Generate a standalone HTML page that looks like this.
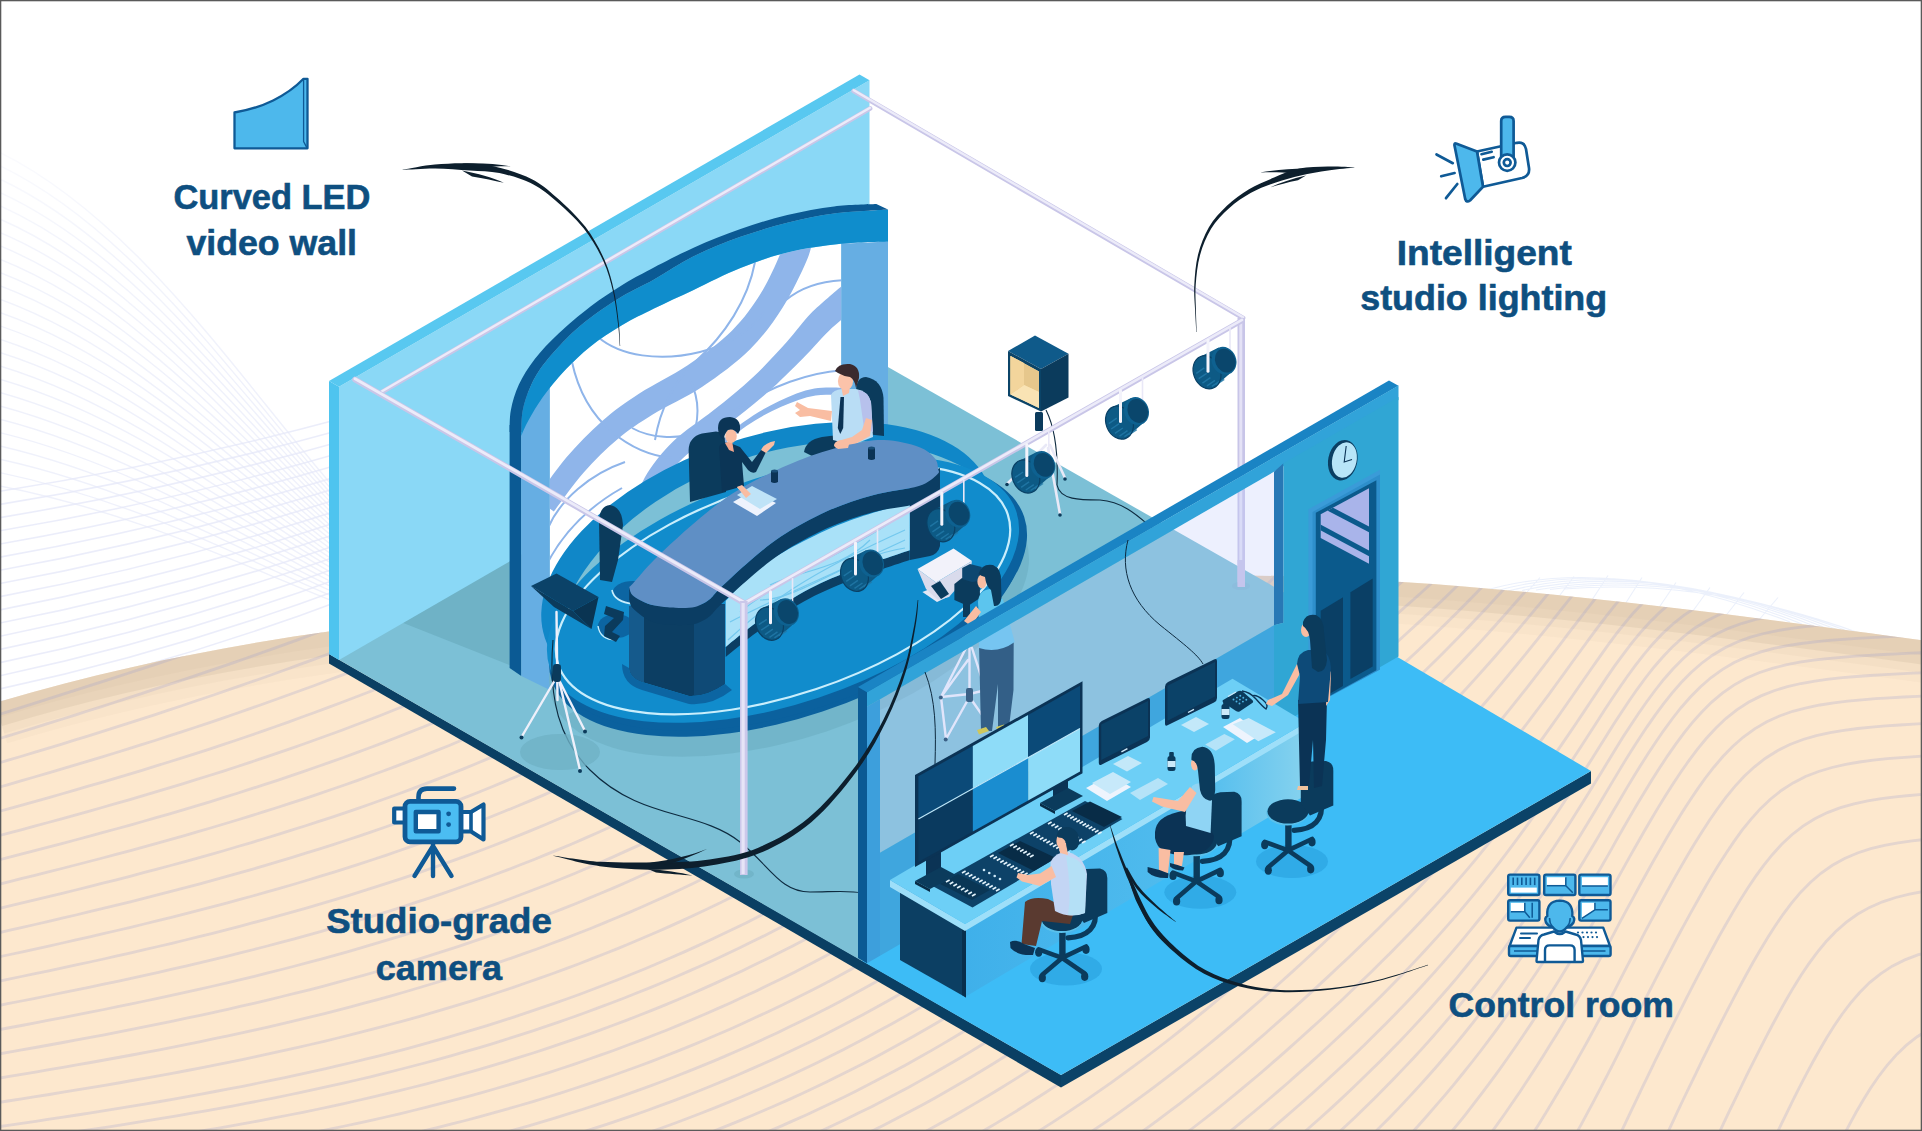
<!DOCTYPE html><html><head><meta charset="utf-8"><title>Studio</title>
<style>html,body{margin:0;padding:0;background:#fff;overflow:hidden}svg{display:block}text{font-family:"Liberation Sans",sans-serif;font-weight:bold;fill:#0e4f80;stroke:#0e4f80;stroke-width:0.6px}</style>
</head><body>
<svg width="1922" height="1131" viewBox="0 0 1922 1131">
<defs>
<clipPath id="sandclip"><path d="M-5,703 C 110,668 230,645 332,631 C 600,596 1000,572 1280,576 C 1500,582 1750,617 1927,641 L1927,1140 L-5,1140 Z"/></clipPath>
<linearGradient id="wfade" x1="0" y1="0" x2="1" y2="0"><stop offset="0" stop-color="#fff" stop-opacity="0"/><stop offset="0.55" stop-color="#fff" stop-opacity="0.35"/><stop offset="1" stop-color="#fff" stop-opacity="1"/></linearGradient>
<linearGradient id="wfade2" x1="0" y1="0" x2="0" y2="1"><stop offset="0" stop-color="#fff" stop-opacity="1"/><stop offset="0.5" stop-color="#fff" stop-opacity="0.2"/><stop offset="1" stop-color="#fff" stop-opacity="0"/></linearGradient>
</defs>
<rect width="1922" height="1131" fill="#ffffff"/>
<path d="M-5,150 C140,219 250,395 345,500 M-5,163.4 C140,230.7 250,402 345,504.2 M-5,176.8 C140,242.5 250,409 345,508.5 M-5,190.2 C140,254.2 250,415.9 345,512.7 M-5,203.6 C140,266 250,422.9 345,516.9 M-5,217 C140,277.7 250,429.9 345,521.2 M-5,230.4 C140,289.5 250,436.9 345,525.4 M-5,243.8 C140,301.2 250,443.9 345,529.6 M-5,257.2 C140,313 250,450.9 345,533.8 M-5,270.6 C140,324.7 250,457.8 345,538.1 M-5,284 C140,336.5 250,464.8 345,542.3 M-5,297.4 C140,348.2 250,471.8 345,546.5 M-5,310.8 C140,360 250,478.8 345,550.8 M-5,324.2 C140,371.7 250,485.8 345,555 M-5,337.6 C140,383.5 250,492.7 345,559.2 M-5,351 C140,395.2 250,499.7 345,563.5 M-5,364.4 C140,407 250,506.7 345,567.7 M-5,377.8 C140,418.7 250,513.7 345,571.9 M-5,391.2 C140,430.5 250,520.7 345,576.2 M-5,404.6 C140,442.2 250,527.6 345,580.4 M-5,418 C140,454 250,534.6 345,584.6 M-5,431.4 C140,465.7 250,541.6 345,588.8 M-5,444.8 C140,477.5 250,548.6 345,593.1 M-5,458.2 C140,489.2 250,555.6 345,597.3 M-5,471.6 C140,501 250,562.6 345,601.5 M-5,485 C140,512.7 250,569.5 345,605.8" fill="none" stroke="#e8ebfa" stroke-width="1.4" opacity="0.7"/>
<rect x="0" y="100" width="360" height="300" fill="url(#wfade2)"/>
<path d="M-5,492 Q170,464.8 345,417.5 M-5,505.2 Q170,477.3 345,428.8 M-5,518.4 Q170,489.8 345,440.2 M-5,531.6 Q170,502.4 345,451.5 M-5,544.8 Q170,514.9 345,462.8 M-5,558 Q170,527.4 345,474.2 M-5,571.2 Q170,539.9 345,485.5 M-5,584.4 Q170,552.4 345,496.8 M-5,597.6 Q170,565 345,508.2 M-5,610.8 Q170,577.5 345,519.5 M-5,624 Q170,590 345,530.9 M-5,637.2 Q170,602.5 345,542.2 M-5,650.4 Q170,615 345,553.5 M-5,663.6 Q170,627.6 345,564.9 M-5,676.8 Q170,640.1 345,576.2 M-5,690 Q170,652.6 345,587.5 M-5,703.2 Q170,665.1 345,598.9" fill="none" stroke="#e6e9f9" stroke-width="1.6" opacity="0.8"/>
<path d="M1480,592 Q1610,552 1790,622 M1494,591.5 Q1626,553.7 1802,624 M1508,591 Q1642,556.4 1814,626 M1522,590.5 Q1658,560.1 1826,628 M1536,590 Q1674,564.8 1838,630 M1550,589.5 Q1690,570.5 1850,632 M1564,589 Q1706,577.2 1862,634 M1520,600 L1540,577.5 M1554,603 L1574,576.5 M1588,606 L1608,575.5 M1622,609 L1642,577.5 M1656,612 L1676,582.5 M1690,615 L1710,587.5 M1724,618 L1744,592.5 M1758,621 L1778,597.5" fill="none" stroke="#e3e9f9" stroke-width="1.1" opacity="0.7"/>
<path d="M-5,703 C 110,668 230,645 332,631 C 600,596 1000,572 1280,576 C 1500,582 1750,617 1927,641 L1927,1140 L-5,1140 Z" fill="#fde8ce"/>
<g clip-path="url(#sandclip)">
<path d="M-5,703 C 110,668 230,645 332,631 C 600,596 1000,572 1280,576 C 1500,582 1750,617 1927,641" fill="none" stroke="#b9a58c" stroke-width="84" opacity="0.05"/>
<path d="M-5,703 C 110,668 230,645 332,631 C 600,596 1000,572 1280,576 C 1500,582 1750,617 1927,641" fill="none" stroke="#b9a58c" stroke-width="64" opacity="0.07"/>
<path d="M-5,703 C 110,668 230,645 332,631 C 600,596 1000,572 1280,576 C 1500,582 1750,617 1927,641" fill="none" stroke="#b9a58c" stroke-width="48" opacity="0.18"/>
<path d="M-5,703 C 110,668 230,645 332,631 C 600,596 1000,572 1280,576 C 1500,582 1750,617 1927,641" fill="none" stroke="#b9a58c" stroke-width="30" opacity="0.08"/>
<path d="M-6,716 L7.4,711.8 L20.7,707.6 L34.1,703.4 L47.4,699.2 L60.8,694.9 L74.1,690.7 L87.4,686.4 L100.8,682.2 L114.1,677.9 L127.4,673.5 L140.7,669.2 L154,664.8 L167.3,660.4 L180.6,656 L193.9,651.5 L207.1,647.1 L220.4,642.5 L233.6,638 L246.8,633.3 L260,628.7 L273.2,624 L286.4,619.3 L299.6,614.5 L312.7,609.7 L325.8,604.8 L338.9,599.9 L352,594.9 L365.1,589.9 L378.1,584.8 L391.1,579.6 L404.1,574.5 L417.1,569.2 L430.1,563.9 L443,558.5 L455.9,553.1 L468.8,547.6 L481.6,542 L494.5,536.4 M-6,740.2 L7.4,736.1 L20.8,732 L34.2,727.9 L47.5,723.7 L60.9,719.5 L74.2,715.3 L87.6,711 L100.9,706.8 L114.2,702.5 L127.5,698.2 L140.8,693.8 L154.1,689.4 L167.4,685 L180.7,680.6 L194,676.2 L207.2,671.7 L220.5,667.1 L233.7,662.6 L246.9,658 L260.2,653.3 L273.3,648.6 L286.5,643.9 L299.7,639.1 L312.8,634.3 L325.9,629.4 L339.1,624.5 L352.1,619.5 L365.2,614.5 L378.2,609.4 L391.3,604.3 L404.3,599.1 L417.2,593.8 L430.2,588.5 L443.1,583.1 L456,577.7 L468.9,572.2 L481.8,566.7 L494.6,561 L507.4,555.4 L520.1,549.6 L532.9,543.8 L545.6,537.9 M-6,764.4 L7.4,760.4 L20.8,756.5 L34.3,752.4 L47.7,748.4 L61.1,744.3 L74.4,740.2 L87.8,736.1 L101.2,731.9 L114.5,727.7 L127.9,723.4 L141.2,719.1 L154.5,714.8 L167.8,710.4 L181.1,706 L194.3,701.5 L207.6,697 L220.8,692.5 L234.1,687.9 L247.3,683.3 L260.5,678.7 L273.7,674 L286.9,669.2 L300,664.4 L313.2,659.6 L326.3,654.7 L339.4,649.8 L352.5,644.8 L365.5,639.8 L378.6,634.7 L391.6,629.6 L404.6,624.4 L417.6,619.1 L430.5,613.8 L443.5,608.4 L456.4,603 L469.3,597.5 L482.1,592 L494.9,586.3 L507.7,580.7 L520.5,574.9 L533.2,569.1 L545.9,563.2 L558.6,557.3 L571.3,551.3 L583.9,545.2 L596.4,539 M-6,788.6 L7.5,784.8 L20.9,780.9 L34.4,777 L47.8,773.1 L61.2,769.2 L74.7,765.2 L88.1,761.2 L101.5,757.1 L114.9,753 L128.2,748.9 L141.6,744.7 L155,740.5 L168.3,736.2 L181.6,731.9 L194.9,727.5 L208.2,723.1 L221.4,718.6 L234.7,714 L247.9,709.4 L261.1,704.7 L274.3,700 L287.5,695.3 L300.6,690.5 L313.8,685.7 L326.9,680.8 L340,675.9 L353.1,670.9 L366.1,665.9 L379.2,660.8 L392.2,655.6 L405.2,650.4 L418.2,645.2 L431.1,639.9 L444,634.5 L456.9,629.1 L469.8,623.6 L482.7,618 L495.5,612.4 L508.3,606.7 L521.1,600.9 L533.8,595.1 L546.5,589.3 L559.2,583.3 L571.8,577.3 L584.4,571.2 L597,565.1 L609.5,558.8 L622,552.5 L634.5,546.2 L647,539.8 M-6,812.8 L7.5,809.1 L21,805.3 L34.5,801.6 L48,797.8 L61.4,794 L74.9,790.1 L88.3,786.2 L101.8,782.3 L115.2,778.4 L128.6,774.3 L142,770.3 L155.4,766.2 L168.8,762 L182.1,757.8 L195.5,753.6 L208.8,749.3 L222.1,744.9 L235.4,740.5 L248.6,736 L261.9,731.4 L275.1,726.8 L288.3,722.1 L301.4,717.3 L314.6,712.5 L327.7,707.6 L340.8,702.7 L353.9,697.7 L366.9,692.7 L380,687.6 L393,682.4 L406,677.2 L419,672 L431.9,666.7 L444.8,661.3 L457.8,655.9 L470.6,650.4 L483.5,644.8 L496.3,639.2 L509.1,633.5 L521.8,627.7 L534.6,621.9 L547.3,616 L560,610.1 L572.6,604 L585.2,598 L597.8,591.8 L610.3,585.6 L622.8,579.3 L635.3,572.9 L647.7,566.5 L660.1,560 L672.5,553.4 L684.8,546.8 L697.1,540.1 L709.3,533.3 M-6,837 L7.5,833.4 L21.1,829.8 L34.6,826.2 L48.1,822.5 L61.6,818.8 L75.1,815.1 L88.6,811.3 L102.1,807.5 L115.5,803.7 L129,799.8 L142.4,795.9 L155.8,791.9 L169.2,787.9 L182.6,783.8 L196,779.7 L209.4,775.5 L222.7,771.3 L236,767 L249.3,762.6 L262.6,758.2 L275.9,753.7 L289.1,749.1 L302.3,744.5 L315.5,739.8 L328.7,735 L341.8,730.2 L354.9,725.2 L368,720.2 L381,715.2 L394.1,710 L407.1,704.8 L420,699.5 L433,694.2 L445.9,688.8 L458.8,683.4 L471.7,677.9 L484.5,672.3 L497.3,666.7 L510.1,661 L522.9,655.2 L535.6,649.4 L548.3,643.5 L561,637.6 L573.6,631.5 L586.2,625.4 L598.8,619.3 L611.3,613 L623.8,606.7 L636.3,600.4 L648.7,593.9 L661.1,587.4 L673.5,580.9 L685.8,574.2 L698.1,567.5 L710.3,560.7 L722.5,553.8 L734.7,546.9 L746.8,539.9 M-6,861.2 L7.6,857.7 L21.1,854.2 L34.7,850.7 L48.2,847.2 L61.8,843.6 L75.3,840 L88.8,836.4 L102.3,832.7 L115.8,829 L129.3,825.3 L142.8,821.5 L156.2,817.6 L169.7,813.8 L183.1,809.8 L196.5,805.8 L209.9,801.8 L223.3,797.6 L236.7,793.5 L250,789.2 L263.4,784.9 L276.7,780.6 L289.9,776.1 L303.2,771.6 L316.4,767 L329.6,762.4 L342.8,757.7 L356,752.9 L369.1,748 L382.2,743.1 L395.3,738 L408.3,732.9 L421.3,727.7 L434.3,722.5 L447.2,717.1 L460.1,711.7 L473,706.1 L485.8,700.6 L498.6,694.9 L511.4,689.2 L524.2,683.5 L536.9,677.6 L549.6,671.7 L562.3,665.8 L574.9,659.7 L587.5,653.6 L600.1,647.5 L612.6,641.2 L625.1,634.9 L637.6,628.6 L650,622.1 L662.4,615.6 L674.7,609 L687,602.3 L699.3,595.6 L711.6,588.8 L723.8,582 L735.9,575 L748,568 L760.1,560.9 L772.1,553.8 L784.1,546.5 L796.1,539.2 M-6,885.4 L7.6,882.1 L21.2,878.7 L34.8,875.3 L48.4,871.9 L61.9,868.5 L75.5,865 L89,861.5 L102.6,858 L116.1,854.4 L129.6,850.8 L143.2,847.1 L156.7,843.4 L170.1,839.6 L183.6,835.8 L197.1,831.9 L210.5,828 L223.9,824 L237.3,820 L250.7,815.9 L264.1,811.7 L277.4,807.5 L290.7,803.2 L304,798.8 L317.3,794.4 L330.6,789.8 L343.8,785.2 L357,780.6 L370.2,775.8 L383.3,771 L396.4,766.1 L409.5,761.1 L422.6,756.1 L435.6,750.9 L448.6,745.7 L461.5,740.3 L474.4,734.9 L487.3,729.4 L500.1,723.9 L512.9,718.2 L525.7,712.4 L538.4,706.6 L551.1,700.7 L563.8,694.7 L576.4,688.7 L589,682.6 L601.6,676.4 L614.1,670.1 L626.6,663.8 L639,657.4 L651.5,651 L663.9,644.5 L676.2,637.9 L688.5,631.2 L700.8,624.5 L713,617.6 L725.2,610.8 L737.4,603.8 L749.5,596.8 L761.6,589.7 L773.6,582.5 L785.6,575.3 L797.5,568 L809.4,560.6 L821.3,553.2 L833.1,545.7 L844.8,538.1 M-6,909.6 L7.6,906.4 L21.2,903.2 L34.9,899.9 L48.5,896.6 L62.1,893.3 L75.7,890 L89.3,886.6 L102.8,883.2 L116.4,879.8 L130,876.3 L143.5,872.7 L157.1,869.2 L170.6,865.5 L184.1,861.8 L197.6,858.1 L211,854.3 L224.5,850.5 L237.9,846.5 L251.4,842.6 L264.8,838.5 L278.2,834.4 L291.5,830.2 L304.9,826 L318.2,821.7 L331.5,817.3 L344.8,812.8 L358,808.3 L371.2,803.7 L384.4,799 L397.6,794.2 L410.7,789.4 L423.8,784.4 L436.9,779.4 L449.9,774.3 L462.9,769.1 L475.9,763.8 L488.8,758.4 L501.7,753 L514.5,747.4 L527.3,741.8 L540.1,736 L552.8,730.2 L565.5,724.3 L578.2,718.3 L590.8,712.2 L603.3,706 L615.8,699.7 L628.3,693.4 L640.8,687 L653.2,680.5 L665.6,674 L677.9,667.4 L690.2,660.7 L702.5,654 L714.7,647.2 L726.9,640.3 L739.1,633.3 L751.2,626.3 L763.2,619.2 L775.3,612 L787.2,604.8 L799.2,597.4 L811.1,590.1 L822.9,582.6 L834.7,575.1 L846.5,567.5 L858.2,559.8 L869.9,552.1 L881.5,544.3 L893.1,536.4 M-6,933.8 L7.7,930.7 L21.3,927.6 L35,924.5 L48.6,921.3 L62.2,918.2 L75.9,915 L89.5,911.7 L103.1,908.4 L116.7,905.1 L130.3,901.8 L143.9,898.4 L157.4,894.9 L171,891.4 L184.5,887.9 L198.1,884.3 L211.6,880.6 L225.1,876.9 L238.5,873.1 L252,869.3 L265.5,865.4 L278.9,861.4 L292.3,857.3 L305.7,853.2 L319,849.1 L332.4,844.8 L345.7,840.5 L359,836.1 L372.2,831.6 L385.5,827 L398.7,822.4 L411.8,817.6 L425,812.8 L438.1,807.9 L451.2,802.9 L464.2,797.9 L477.3,792.7 L490.2,787.5 L503.2,782.1 L516.1,776.7 L528.9,771.2 L541.8,765.5 L554.6,759.8 L567.3,754 L580,748.1 L592.6,742.1 L605.2,736.1 L617.8,729.9 L630.3,723.6 L642.8,717.2 L655.2,710.7 L667.6,704.2 L679.9,697.6 L692.2,690.9 L704.5,684.1 L716.7,677.3 L728.9,670.4 L741,663.4 L753.1,656.4 L765.2,649.3 L777.2,642.1 L789.2,634.9 L801.1,627.5 L813,620.1 L824.8,612.7 L836.6,605.1 L848.4,597.5 L860.1,589.8 L871.8,582.1 L883.4,574.3 L894.9,566.4 L906.5,558.5 L917.9,550.4 L929.4,542.3 L940.7,534.2 M-6,958 L7.7,955 L21.4,952.1 L35,949.1 L48.7,946.1 L62.4,943 L76,939.9 L89.7,936.8 L103.3,933.7 L117,930.5 L130.6,927.3 L144.2,924 L157.8,920.7 L171.4,917.3 L185,913.9 L198.5,910.4 L212.1,906.9 L225.6,903.3 L239.1,899.7 L252.6,896 L266.1,892.2 L279.6,888.4 L293,884.5 L306.4,880.5 L319.8,876.4 L333.2,872.3 L346.6,868.1 L359.9,863.8 L373.2,859.5 L386.5,855.1 L399.7,850.5 L413,845.9 L426.2,841.3 L439.3,836.5 L452.5,831.6 L465.6,826.7 L478.6,821.7 L491.6,816.5 L504.6,811.3 L517.6,806 L530.5,800.6 L543.4,795.1 L556.2,789.5 L569,783.9 L581.8,778.1 L594.5,772.2 L607.1,766.2 L619.8,760.2 L632.3,754 L644.9,747.7 L657.3,741.4 L669.7,734.9 L682.1,728.4 L694.4,721.7 L706.7,715 L718.9,708.1 L731.1,701.2 L743.2,694.2 L755.3,687.2 L767.4,680 L779.4,672.8 L791.3,665.6 L803.3,658.2 L815.1,650.8 L827,643.4 L838.8,635.8 L850.5,628.2 L862.2,620.5 L873.9,612.7 L885.5,604.9 L897,597 L908.6,589.1 L920,581 L931.4,572.9 L942.8,564.8 L954.1,556.5 L965.4,548.2 L976.6,539.9 M-6,982.2 L7.7,979.4 L21.4,976.5 L35.1,973.7 L48.8,970.8 L62.5,967.9 L76.2,964.9 L89.9,962 L103.6,959 L117.2,955.9 L130.9,952.8 L144.5,949.7 L158.2,946.5 L171.8,943.3 L185.4,940 L199,936.6 L212.6,933.3 L226.1,929.8 L239.7,926.3 L253.2,922.7 L266.7,919.1 L280.2,915.4 L293.7,911.6 L307.2,907.8 L320.6,903.9 L334.1,899.9 L347.5,895.8 L360.8,891.7 L374.2,887.4 L387.5,883.1 L400.8,878.8 L414.1,874.3 L427.3,869.7 L440.5,865.1 L453.7,860.4 L466.8,855.6 L479.9,850.7 L493,845.7 L506.1,840.6 L519.1,835.4 L532,830.1 L545,824.8 L557.9,819.3 L570.7,813.7 L583.5,808.1 L596.3,802.3 L609,796.5 L621.7,790.5 L634.3,784.5 L646.9,778.3 L659.4,772.1 L671.9,765.7 L684.3,759.3 L696.7,752.7 L709,746.1 L721.3,739.4 L733.5,732.5 L745.7,725.6 L757.8,718.5 L769.8,711.4 L781.8,704.2 L793.8,696.9 L805.7,689.6 L817.6,682.1 L829.4,674.7 L841.2,667.1 L852.9,659.5 L864.6,651.8 L876.2,644 L887.8,636.1 L899.4,628.2 L910.9,620.3 L922.3,612.2 L933.8,604.1 L945.1,595.9 L956.4,587.7 L967.7,579.4 L978.9,571 L990.1,562.6 L1001.2,554 L1012.3,545.5 L1023.3,536.9 M-6,1006.4 L7.7,1003.7 L21.5,1001 L35.2,998.3 L48.9,995.5 L62.7,992.7 L76.4,989.9 L90.1,987.1 L103.8,984.2 L117.5,981.3 L131.2,978.3 L144.8,975.3 L158.5,972.3 L172.1,969.2 L185.8,966.1 L199.4,962.9 L213,959.6 L226.6,956.3 L240.2,952.9 L253.8,949.5 L267.4,946 L280.9,942.4 L294.4,938.8 L307.9,935.1 L321.4,931.3 L334.9,927.4 L348.3,923.5 L361.7,919.5 L375.1,915.4 L388.5,911.3 L401.8,907 L415.1,902.7 L428.4,898.3 L441.7,893.8 L454.9,889.2 L468.1,884.5 L481.2,879.7 L494.4,874.8 L507.5,869.9 L520.5,864.8 L533.5,859.7 L546.5,854.4 L559.5,849.1 L572.4,843.7 L585.2,838.1 L598,832.5 L610.8,826.8 L623.5,820.9 L636.2,815 L648.8,809 L661.4,802.8 L674,796.6 L686.5,790.3 L698.9,783.8 L711.3,777.3 L723.6,770.7 L735.9,763.9 L748.1,757.1 L760.3,750.2 L772.4,743.2 L784.4,736 L796.4,728.8 L808.3,721.5 L820.2,714.1 L832,706.6 L843.8,699 L855.5,691.3 L867.2,683.6 L878.8,675.8 L890.4,668 L902,660 L913.5,652 L924.9,644 L936.3,635.9 L947.7,627.7 L959,619.4 L970.2,611.1 L981.4,602.7 L992.6,594.2 L1003.7,585.7 L1014.8,577.1 L1025.8,568.5 L1036.7,559.8 L1047.7,551 L1058.5,542.2 L1069.3,533.3 M-6,1030.6 L7.8,1028 L21.5,1025.5 L35.3,1022.9 L49,1020.2 L62.8,1017.6 L76.5,1014.9 L90.3,1012.2 L104,1009.5 L117.7,1006.7 L131.4,1003.9 L145.1,1001 L158.8,998.1 L172.5,995.2 L186.2,992.1 L199.8,989.1 L213.5,986 L227.1,982.8 L240.7,979.6 L254.4,976.3 L267.9,972.9 L281.5,969.5 L295.1,966 L308.6,962.4 L322.1,958.8 L335.6,955.1 L349.1,951.3 L362.6,947.4 L376,943.4 L389.4,939.4 L402.8,935.3 L416.1,931.1 L429.5,926.8 L442.8,922.4 L456,918 L469.3,913.4 L482.5,908.8 L495.7,904.1 L508.8,899.2 L521.9,894.3 L535,889.3 L548,884.2 L561,879 L574,873.7 L586.9,868.2 L599.7,862.7 L612.6,857.1 L625.3,851.4 L638.1,845.6 L650.8,839.7 L663.4,833.7 L676,827.6 L688.6,821.3 L701,815 L713.5,808.6 L725.9,802.1 L738.2,795.5 L750.5,788.7 L762.7,781.9 L774.9,775 L787,768 L799,760.8 L811,753.6 L823,746.3 L834.8,738.9 L846.7,731.4 L858.4,723.7 L870.1,716 L881.7,708.2 L893.3,700.4 L904.8,692.4 L916.3,684.4 L927.7,676.3 L939.1,668.2 L950.5,660 L961.8,651.7 L973,643.4 L984.2,635 L995.3,626.5 L1006.4,617.9 L1017.5,609.3 L1028.5,600.7 L1039.4,592 L1050.3,583.2 L1061.2,574.3 L1072,565.4 L1082.7,556.5 L1093.4,547.4 L1104.1,538.4 M-6,1054.8 L7.8,1052.4 L21.6,1049.9 L35.4,1047.5 L49.1,1045 L62.9,1042.5 L76.7,1039.9 L90.4,1037.4 L104.2,1034.8 L117.9,1032.1 L131.7,1029.4 L145.4,1026.7 L159.1,1023.9 L172.8,1021.1 L186.5,1018.2 L200.2,1015.3 L213.9,1012.3 L227.6,1009.3 L241.2,1006.2 L254.9,1003.1 L268.5,999.8 L282.1,996.5 L295.7,993.2 L309.3,989.8 L322.8,986.3 L336.4,982.7 L349.9,979 L363.4,975.3 L376.9,971.5 L390.3,967.6 L403.7,963.6 L417.1,959.6 L430.5,955.4 L443.8,951.2 L457.2,946.9 L470.4,942.4 L483.7,937.9 L496.9,933.3 L510.1,928.6 L523.3,923.8 L536.4,919 L549.5,914 L562.5,908.9 L575.5,903.7 L588.5,898.4 L601.4,893 L614.3,887.6 L627.1,882 L639.9,876.3 L652.7,870.5 L665.4,864.6 L678,858.6 L690.6,852.5 L703.2,846.3 L715.7,840 L728.1,833.6 L740.5,827.1 L752.8,820.4 L765.1,813.7 L777.3,806.9 L789.5,800 L801.6,793 L813.7,785.8 L825.7,778.6 L837.6,771.3 L849.5,763.9 L861.3,756.4 L873,748.7 L884.7,741 L896.3,733.2 L907.9,725.3 L919.4,717.3 L930.8,709.2 L942.2,701.1 L953.5,692.8 L964.8,684.5 L976,676.2 L987.2,667.8 L998.3,659.3 L1009.4,650.7 L1020.5,642.1 L1031.4,633.4 L1042.4,624.7 L1053.3,615.9 L1064.1,607 L1074.9,598.1 L1085.6,589.1 L1096.3,580.1 L1107,571 L1117.5,561.8 L1128.1,552.6 L1138.6,543.3 L1149,534 M-6,1079 L7.8,1076.7 L21.6,1074.4 L35.4,1072.1 L49.2,1069.7 L63,1067.3 L76.8,1064.9 L90.6,1062.5 L104.4,1060 L118.2,1057.5 L131.9,1055 L145.7,1052.4 L159.4,1049.8 L173.2,1047.1 L186.9,1044.4 L200.6,1041.6 L214.3,1038.7 L228,1035.8 L241.7,1032.9 L255.4,1029.9 L269,1026.8 L282.7,1023.6 L296.3,1020.4 L309.9,1017.1 L323.5,1013.8 L337.1,1010.3 L350.6,1006.8 L364.2,1003.2 L377.7,999.6 L391.2,995.8 L404.6,992 L418.1,988 L431.5,984 L444.9,979.9 L458.2,975.8 L471.6,971.5 L484.9,967.1 L498.1,962.6 L511.4,958.1 L524.6,953.4 L537.7,948.7 L550.9,943.8 L564,938.9 L577,933.8 L590,928.7 L603,923.4 L615.9,918 L628.8,912.6 L641.7,907 L654.5,901.3 L667.2,895.6 L679.9,889.7 L692.6,883.7 L705.2,877.6 L717.8,871.4 L730.3,865.1 L742.7,858.7 L755.1,852.2 L767.5,845.6 L779.7,838.9 L792,832.1 L804.1,825.2 L816.3,818.2 L828.3,811 L840.3,803.8 L852.2,796.5 L864.1,789.1 L875.9,781.6 L887.7,773.9 L899.3,766.2 L911,758.4 L922.5,750.5 L934,742.5 L945.4,734.4 L956.8,726.2 L968.1,717.9 L979.3,709.5 L990.4,701.1 L1001.6,692.6 L1012.6,684 L1023.7,675.4 L1034.6,666.7 L1045.6,657.9 L1056.4,649.1 L1067.2,640.2 L1078,631.3 L1088.7,622.3 L1099.4,613.2 L1110,604.1 L1120.6,595 L1131.1,585.7 L1141.6,576.4 L1152,567.1 L1162.4,557.7 L1172.8,548.2 L1183,538.7 M-6,1103.2 L7.8,1101 L21.7,1098.9 L35.5,1096.7 L49.3,1094.5 L63.1,1092.2 L76.9,1089.9 L90.8,1087.7 L104.6,1085.3 L118.4,1083 L132.2,1080.5 L145.9,1078.1 L159.7,1075.6 L173.5,1073.1 L187.2,1070.5 L201,1067.8 L214.7,1065.1 L228.5,1062.4 L242.2,1059.6 L255.9,1056.7 L269.6,1053.7 L283.2,1050.7 L296.9,1047.7 L310.5,1044.5 L324.2,1041.3 L337.8,1038 L351.3,1034.6 L364.9,1031.2 L378.5,1027.7 L392,1024 L405.5,1020.4 L419,1016.6 L432.4,1012.7 L445.9,1008.7 L459.3,1004.7 L472.6,1000.6 L486,996.3 L499.3,992 L512.6,987.6 L525.8,983 L539,978.4 L552.2,973.7 L565.4,968.9 L578.5,964 L591.5,958.9 L604.6,953.8 L617.6,948.6 L630.5,943.3 L643.4,937.8 L656.3,932.3 L669.1,926.6 L681.8,920.9 L694.5,915 L707.2,909 L719.8,903 L732.4,896.8 L744.9,890.5 L757.4,884.1 L769.8,877.6 L782.1,871 L794.4,864.3 L806.6,857.5 L818.8,850.6 L830.9,843.6 L843,836.5 L855,829.2 L866.9,821.9 L878.8,814.5 L890.6,807 L902.3,799.3 L914,791.6 L925.6,783.8 L937.1,775.9 L948.6,767.9 L960,759.8 L971.4,751.6 L982.7,743.3 L993.9,734.9 L1005,726.4 L1016.1,717.8 L1027.1,709.2 L1038.1,700.5 L1049,691.7 L1059.8,682.9 L1070.6,674 L1081.4,665 L1092.1,656 L1102.8,646.9 L1113.4,637.8 L1123.9,628.6 L1134.4,619.3 L1144.9,610 L1155.3,600.7 L1165.7,591.3 L1176,581.8 L1186.2,572.3 L1196.5,562.7 L1206.6,553.1 L1216.7,543.4 L1226.8,533.6 M-6,1127.4 L7.9,1125.4 L21.7,1123.3 L35.6,1121.3 L49.4,1119.2 L63.2,1117.1 L77.1,1115 L90.9,1112.8 L104.7,1110.6 L118.6,1108.4 L132.4,1106.1 L146.2,1103.8 L160,1101.5 L173.8,1099.1 L187.6,1096.6 L201.3,1094.1 L215.1,1091.5 L228.8,1088.9 L242.6,1086.3 L256.3,1083.5 L270,1080.7 L283.7,1077.9 L297.4,1074.9 L311.1,1071.9 L324.8,1068.9 L338.4,1065.7 L352,1062.5 L365.6,1059.2 L379.2,1055.8 L392.8,1052.3 L406.3,1048.8 L419.8,1045.1 L433.3,1041.4 L446.8,1037.6 L460.3,1033.7 L473.7,1029.7 L487.1,1025.6 L500.4,1021.4 L513.7,1017.1 L527,1012.7 L540.3,1008.2 L553.5,1003.7 L566.7,999 L579.9,994.2 L593,989.3 L606.1,984.3 L619.1,979.2 L632.1,974 L645.1,968.7 L658,963.3 L670.8,957.7 L683.7,952.1 L696.4,946.4 L709.2,940.5 L721.8,934.6 L734.4,928.5 L747,922.4 L759.5,916.1 L772,909.7 L784.4,903.2 L796.7,896.6 L809,889.9 L821.3,883.1 L833.4,876.2 L845.6,869.2 L857.6,862.1 L869.6,854.8 L881.5,847.5 L893.4,840.1 L905.2,832.6 L916.9,824.9 L928.6,817.2 L940.2,809.4 L951.8,801.4 L963.2,793.4 L974.6,785.3 L986,777.1 L997.3,768.8 L1008.5,760.4 L1019.6,751.9 L1030.7,743.3 L1041.7,734.7 L1052.6,725.9 L1063.5,717.1 L1074.3,708.2 L1085,699.2 L1095.7,690.2 L1106.3,681.1 L1116.9,671.9 L1127.5,662.7 L1138,653.4 L1148.4,644.1 L1158.8,634.7 L1169.1,625.3 L1179.4,615.8 L1189.7,606.3 L1199.9,596.7 L1210,587 L1220.1,577.3 L1230.2,567.6 L1240.2,557.8 L1250.1,548 L1260,538.1 M40,1137 L53.9,1135 L67.7,1133 L81.6,1130.9 L95.4,1128.9 L109.2,1126.8 L123.1,1124.6 L136.9,1122.4 L150.7,1120.2 L164.5,1117.9 L178.3,1115.6 L192.1,1113.2 L205.9,1110.8 L219.7,1108.3 L233.5,1105.8 L247.2,1103.2 L261,1100.5 L274.7,1097.8 L288.4,1095 L302.1,1092.2 L315.8,1089.2 L329.5,1086.2 L343.2,1083.1 L356.8,1080 L370.4,1076.8 L384,1073.4 L397.6,1070 L411.2,1066.5 L424.7,1063 L438.2,1059.3 L451.7,1055.6 L465.2,1051.7 L478.6,1047.8 L492,1043.8 L505.4,1039.6 L518.7,1035.4 L532,1031.1 L545.3,1026.7 L558.6,1022.1 L571.8,1017.5 L585,1012.8 L598.1,1007.9 L611.2,1003 L624.3,998 L637.3,992.8 L650.3,987.6 L663.2,982.2 L676.1,976.7 L688.9,971.1 L701.7,965.5 L714.5,959.7 L727.2,953.8 L739.8,947.7 L752.4,941.6 L764.9,935.4 L777.4,929.1 L789.8,922.6 L802.2,916.1 L814.5,909.4 L826.8,902.6 L839,895.7 L851.1,888.8 L863.2,881.7 L875.2,874.5 L887.1,867.2 L899,859.8 L910.9,852.3 L922.6,844.7 L934.3,837 L945.9,829.2 L957.5,821.3 L969,813.3 L980.4,805.2 L991.8,797.1 L1003.1,788.8 L1014.3,780.4 L1025.4,771.9 L1036.5,763.4 L1047.6,754.8 L1058.5,746 L1069.4,737.2 L1080.2,728.3 L1090.9,719.3 L1101.6,710.3 L1112.2,701.2 L1122.8,692 L1133.3,682.7 L1143.8,673.4 L1154.2,664.1 L1164.5,654.7 L1174.9,645.2 L1185.1,635.7 L1195.3,626.1 L1205.5,616.5 L1215.6,606.8 L1225.7,597.1 L1235.7,587.3 L1245.7,577.5 L1255.6,567.6 L1265.6,557.7 L1275.5,547.9 L1285.6,538.2 M165,1137 L178.8,1134.8 L192.6,1132.5 L206.4,1130.2 L220.2,1127.8 L234,1125.4 L247.8,1122.9 L261.6,1120.3 L275.3,1117.7 L289.1,1115 L302.8,1112.3 L316.5,1109.5 L330.2,1106.6 L343.9,1103.6 L357.5,1100.5 L371.2,1097.4 L384.8,1094.2 L398.4,1090.9 L412,1087.5 L425.6,1084.1 L439.1,1080.5 L452.6,1076.9 L466.1,1073.1 L479.6,1069.3 L493,1065.4 L506.4,1061.3 L519.8,1057.2 L533.2,1053 L546.5,1048.7 L559.8,1044.2 L573,1039.7 L586.2,1035.1 L599.4,1030.4 L612.5,1025.5 L625.6,1020.6 L638.7,1015.5 L651.7,1010.4 L664.7,1005.1 L677.6,999.7 L690.5,994.2 L703.3,988.6 L716.1,982.9 L728.8,977.1 L741.5,971.2 L754.1,965.1 L766.7,959 L779.2,952.7 L791.7,946.4 L804.1,939.9 L816.5,933.3 L828.8,926.6 L841,919.8 L853.2,912.9 L865.3,905.9 L877.4,898.8 L889.4,891.6 L901.3,884.3 L913.2,876.8 L925,869.3 L936.7,861.7 L948.4,853.9 L960,846.1 L971.5,838.2 L983,830.2 L994.4,822 L1005.7,813.8 L1017,805.5 L1028.2,797.1 L1039.3,788.6 L1050.4,780 L1061.4,771.4 L1072.3,762.6 L1083.2,753.8 L1093.9,744.8 L1104.7,735.8 L1115.3,726.7 L1125.9,717.5 L1136.4,708.3 L1146.8,699 L1157.2,689.6 L1167.6,680.2 L1177.9,670.7 L1188.1,661.2 L1198.3,651.6 L1208.5,641.9 L1218.6,632.2 L1228.7,622.5 L1238.7,612.7 L1248.6,602.9 L1258.5,593 L1268.5,583.1 L1278.5,573.3 L1288.5,563.6 L1298.6,553.9 L1308.8,544.2 L1319,534.7 M290,1137 L303.7,1134.4 L317.5,1131.7 L331.2,1128.9 L344.9,1126 L358.6,1123.1 L372.3,1120.1 L385.9,1117 L399.6,1113.8 L413.2,1110.5 L426.8,1107.2 L440.3,1103.7 L453.9,1100.2 L467.4,1096.6 L480.9,1092.8 L494.4,1089 L507.8,1085.1 L521.2,1081.1 L534.6,1077 L548,1072.8 L561.3,1068.5 L574.6,1064.1 L587.8,1059.5 L601,1054.9 L614.2,1050.2 L627.3,1045.3 L640.4,1040.4 L653.5,1035.3 L666.5,1030.2 L679.5,1024.9 L692.4,1019.5 L705.3,1014 L718.1,1008.4 L730.9,1002.7 L743.6,996.8 L756.3,990.9 L768.9,984.8 L781.5,978.7 L794,972.4 L806.5,966 L818.9,959.5 L831.2,952.9 L843.5,946.2 L855.7,939.4 L867.9,932.5 L880,925.4 L892,918.3 L904,911.1 L915.9,903.7 L927.8,896.3 L939.6,888.7 L951.3,881 L962.9,873.3 L974.5,865.4 L986,857.5 L997.5,849.4 L1008.9,841.3 L1020.2,833 L1031.4,824.7 L1042.6,816.2 L1053.7,807.7 L1064.7,799.1 L1075.7,790.4 L1086.6,781.6 L1097.4,772.7 L1108.2,763.8 L1118.9,754.7 L1129.5,745.6 L1140,736.4 L1150.5,727.1 L1160.9,717.7 L1171.3,708.3 L1181.5,698.8 L1191.8,689.2 L1202,679.6 L1212.1,670 L1222.2,660.3 L1232.2,650.5 L1242.2,640.7 L1252.2,630.9 L1262.1,621 L1272,611.1 L1282,601.3 L1292.1,591.6 L1302.2,581.9 L1312.4,572.3 L1322.6,562.7 L1332.9,553.2 L1343.2,543.8 L1353.6,534.4 M397.5,1137 L411.1,1133.9 L424.7,1130.6 L438.3,1127.3 L451.9,1123.9 L465.5,1120.5 L479,1116.9 L492.5,1113.2 L506,1109.4 L519.5,1105.5 L532.9,1101.6 L546.3,1097.5 L559.6,1093.3 L573,1089 L586.3,1084.6 L599.5,1080.1 L612.7,1075.5 L625.9,1070.8 L639.1,1066 L652.2,1061.1 L665.2,1056 L678.2,1050.9 L691.2,1045.6 L704.1,1040.2 L717,1034.8 L729.9,1029.2 L742.6,1023.5 L755.4,1017.6 L768.1,1011.7 L780.7,1005.7 L793.3,999.5 L805.8,993.2 L818.2,986.9 L830.6,980.4 L843,973.8 L855.3,967.1 L867.5,960.2 L879.7,953.3 L891.8,946.3 L903.8,939.1 L915.8,931.9 L927.7,924.5 L939.6,917.1 L951.3,909.5 L963,901.8 L974.7,894.1 L986.3,886.2 L997.8,878.2 L1009.2,870.2 L1020.6,862 L1031.9,853.8 L1043.2,845.4 L1054.3,837 L1065.4,828.4 L1076.4,819.8 L1087.4,811.1 L1098.3,802.3 L1109.1,793.4 L1119.9,784.4 L1130.5,775.4 L1141.1,766.2 L1151.7,757 L1162.1,747.7 L1172.5,738.3 L1182.9,728.9 L1193.1,719.3 L1203.3,709.7 L1213.4,700.1 L1223.5,690.4 L1233.5,680.6 L1243.5,670.8 L1253.5,660.9 L1263.4,651 L1273.3,641.2 L1283.3,631.4 L1293.4,621.7 L1303.5,612 L1313.7,602.3 L1323.9,592.8 L1334.2,583.3 L1344.5,573.8 L1354.9,564.4 L1365.3,555.1 L1375.7,545.7 L1386.2,536.4 M488.2,1137 L501.7,1133.4 L515.2,1129.6 L528.7,1125.8 L542.1,1121.9 L555.5,1117.8 L568.9,1113.7 L582.2,1109.5 L595.5,1105.1 L608.8,1100.7 L622,1096.1 L635.2,1091.4 L648.4,1086.6 L661.5,1081.8 L674.6,1076.7 L687.6,1071.6 L700.6,1066.4 L713.5,1061.1 L726.4,1055.6 L739.3,1050 L752.1,1044.4 L764.8,1038.6 L777.5,1032.7 L790.1,1026.6 L802.7,1020.5 L815.3,1014.3 L827.7,1007.9 L840.1,1001.4 L852.5,994.8 L864.8,988.1 L877,981.3 L889.2,974.4 L901.3,967.4 L913.4,960.3 L925.4,953 L937.3,945.7 L949.1,938.2 L960.9,930.7 L972.6,923 L984.3,915.3 L995.9,907.4 L1007.4,899.5 L1018.8,891.4 L1030.2,883.2 L1041.5,875 L1052.8,866.6 L1063.9,858.2 L1075,849.7 L1086.1,841.1 L1097,832.3 L1107.9,823.5 L1118.7,814.7 L1129.5,805.7 L1140.2,796.6 L1150.8,787.5 L1161.3,778.3 L1171.8,769 L1182.2,759.6 L1192.5,750.1 L1202.7,740.6 L1212.9,731 L1223,721.3 L1233.1,711.6 L1243.1,701.7 L1253,691.9 L1262.9,682 L1272.9,672.1 L1282.8,662.3 L1292.9,652.6 L1302.9,642.8 L1313.1,633.2 L1323.3,623.6 L1333.5,614 L1343.8,604.6 L1354.2,595.1 L1364.6,585.8 L1375,576.4 L1385.5,567.1 L1396,557.9 L1406.5,548.6 L1417,539.4 M566.6,1137 L579.9,1132.9 L593.3,1128.7 L606.6,1124.3 L619.9,1119.9 L633.1,1115.4 L646.3,1110.7 L659.5,1105.9 L672.6,1101.1 L685.7,1096.1 L698.7,1091 L711.7,1085.8 L724.7,1080.4 L737.6,1075 L750.4,1069.4 L763.2,1063.7 L776,1058 L788.7,1052.1 L801.3,1046 L813.9,1039.9 L826.4,1033.7 L838.9,1027.3 L851.3,1020.8 L863.7,1014.3 L876,1007.6 L888.2,1000.8 L900.4,993.8 L912.5,986.8 L924.5,979.7 L936.5,972.4 L948.4,965.1 L960.3,957.6 L972,950.1 L983.8,942.4 L995.4,934.6 L1007,926.8 L1018.5,918.8 L1029.9,910.7 L1041.3,902.6 L1052.6,894.3 L1063.8,885.9 L1075,877.5 L1086.1,868.9 L1097.1,860.3 L1108.1,851.6 L1118.9,842.8 L1129.8,833.9 L1140.5,824.9 L1151.2,815.8 L1161.7,806.7 L1172.3,797.4 L1182.7,788.1 L1193.1,778.7 L1203.4,769.2 L1213.7,759.7 L1223.8,750.1 L1233.9,740.4 L1244,730.6 L1253.9,720.8 L1263.8,710.9 L1273.8,701.1 L1283.8,691.2 L1293.8,681.4 L1303.8,671.7 L1313.9,662 L1324.1,652.4 L1334.3,642.8 L1344.6,633.3 L1354.9,623.8 L1365.2,614.4 L1375.6,605 L1386.1,595.7 L1396.6,586.4 L1407.1,577.2 L1417.5,567.9 L1427.9,558.5 L1438.2,548.9 L1448.3,539.3 M635.9,1137 L649.1,1132.4 L662.3,1127.8 L675.4,1123 L688.6,1118 L701.6,1113 L714.7,1107.9 L727.6,1102.6 L740.6,1097.3 L753.4,1091.8 L766.3,1086.2 L779.1,1080.5 L791.8,1074.7 L804.5,1068.7 L817.1,1062.7 L829.6,1056.5 L842.2,1050.2 L854.6,1043.8 L867,1037.3 L879.3,1030.6 L891.6,1023.9 L903.8,1017.1 L916,1010.1 L928,1003 L940.1,995.8 L952,988.5 L963.9,981.1 L975.7,973.6 L987.5,966 L999.1,958.3 L1010.8,950.5 L1022.3,942.6 L1033.8,934.6 L1045.2,926.5 L1056.5,918.2 L1067.8,909.9 L1079,901.5 L1090.1,893 L1101.2,884.4 L1112.1,875.7 L1123.1,867 L1133.9,858.1 L1144.7,849.2 L1155.4,840.1 L1166,831 L1176.5,821.8 L1187,812.5 L1197.4,803.2 L1207.8,793.7 L1218,784.2 L1228.2,774.6 L1238.4,765 L1248.4,755.2 L1258.4,745.4 L1268.4,735.6 L1278.4,725.8 L1288.4,716 L1298.4,706.2 L1308.5,696.5 L1318.6,686.8 L1328.7,677.1 L1338.9,667.5 L1349.1,657.9 L1359.4,648.4 L1369.7,638.9 L1380,629.5 L1390.4,620.1 L1400.8,610.8 L1411.3,601.5 L1421.7,592.2 L1432.1,582.7 L1442.3,573.1 L1452.3,563.4 L1462.3,553.6 L1472.2,543.7 L1482,533.6 M698.3,1137 L711.4,1132 L724.4,1126.9 L737.4,1121.6 L750.3,1116.3 L763.2,1110.8 L776,1105.3 L788.8,1099.6 L801.6,1093.7 L814.3,1087.8 L826.9,1081.8 L839.4,1075.6 L852,1069.3 L864.4,1062.9 L876.8,1056.4 L889.1,1049.8 L901.4,1043.1 L913.6,1036.2 L925.8,1029.2 L937.9,1022.2 L949.9,1015 L961.8,1007.7 L973.7,1000.3 L985.5,992.8 L997.3,985.2 L1009,977.5 L1020.6,969.7 L1032.1,961.7 L1043.6,953.7 L1055,945.6 L1066.3,937.4 L1077.6,929.1 L1088.8,920.6 L1099.9,912.1 L1111,903.5 L1121.9,894.9 L1132.8,886.1 L1143.7,877.2 L1154.4,868.3 L1165.1,859.2 L1175.7,850.1 L1186.3,840.9 L1196.8,831.6 L1207.2,822.2 L1217.5,812.8 L1227.8,803.3 L1238,793.7 L1248.1,784 L1258.1,774.2 L1268.2,764.5 L1278.2,754.7 L1288.2,745 L1298.3,735.2 L1308.4,725.5 L1318.4,715.8 L1328.5,706.1 L1338.7,696.4 L1348.8,686.8 L1359,677.2 L1369.3,667.6 L1379.5,658.1 L1389.8,648.7 L1400.2,639.2 L1410.6,629.8 L1420.9,620.4 L1431.1,610.8 L1441.3,601.2 L1451.4,591.5 L1461.4,581.7 L1471.2,571.7 L1481,561.7 L1490.6,551.6 L1500.2,541.3 L1509.7,531 M755.4,1137 L768.3,1131.6 L781.1,1126.1 L793.9,1120.4 L806.7,1114.7 L819.4,1108.8 L832.1,1102.8 L844.7,1096.7 L857.2,1090.4 L869.7,1084.1 L882.1,1077.6 L894.5,1071.1 L906.7,1064.4 L919,1057.6 L931.2,1050.6 L943.3,1043.6 L955.3,1036.5 L967.3,1029.2 L979.2,1021.9 L991,1014.4 L1002.8,1006.8 L1014.5,999.1 L1026.1,991.3 L1037.7,983.5 L1049.2,975.5 L1060.6,967.4 L1072,959.2 L1083.3,950.9 L1094.5,942.5 L1105.6,934 L1116.7,925.5 L1127.7,916.8 L1138.6,908.1 L1149.5,899.2 L1160.3,890.3 L1171,881.3 L1181.6,872.2 L1192.2,863 L1202.7,853.7 L1213.1,844.4 L1223.4,834.9 L1233.7,825.4 L1243.9,815.9 L1254.1,806.2 L1264.2,796.5 L1274.2,786.8 L1284.3,777.1 L1294.4,767.4 L1304.5,757.6 L1314.6,747.9 L1324.7,738.3 L1334.8,728.6 L1344.9,718.9 L1355.1,709.3 L1365.2,699.6 L1375.4,690 L1385.6,680.5 L1395.9,670.9 L1406.2,661.4 L1416.4,651.9 L1426.6,642.3 L1436.7,632.6 L1446.7,622.8 L1456.6,612.9 L1466.5,603 L1476.3,593 L1486,582.8 L1495.5,572.6 L1505,562.3 L1514.4,551.9 L1523.7,541.5 L1533,531 M807.9,1137 L820.6,1131.2 L833.3,1125.3 L846,1119.3 L858.5,1113.1 L871.1,1106.9 L883.5,1100.5 L895.9,1094 L908.3,1087.4 L920.5,1080.6 L932.8,1073.8 L944.9,1066.8 L957,1059.8 L969,1052.6 L981,1045.3 L992.9,1037.9 L1004.7,1030.4 L1016.4,1022.8 L1028.1,1015.1 L1039.7,1007.3 L1051.3,999.3 L1062.7,991.3 L1074.1,983.2 L1085.5,974.9 L1096.7,966.6 L1107.9,958.2 L1119,949.7 L1130,941.1 L1141,932.4 L1151.9,923.6 L1162.7,914.7 L1173.5,905.7 L1184.2,896.7 L1194.8,887.5 L1205.3,878.3 L1215.8,869 L1226.1,859.6 L1236.5,850.2 L1246.7,840.6 L1256.9,831 L1267,821.4 L1277.2,811.7 L1287.3,802 L1297.4,792.3 L1307.5,782.7 L1317.6,773 L1327.8,763.3 L1337.9,753.7 L1348,744 L1358.2,734.3 L1368.3,724.7 L1378.4,715 L1388.6,705.4 L1398.7,695.8 L1408.9,686.2 L1419.1,676.5 L1429.1,666.8 L1439.1,656.9 L1449,647 L1458.8,637 L1468.5,627 L1478.2,616.8 L1487.8,606.6 L1497.3,596.3 L1506.7,586 L1516,575.5 L1525.3,565 L1534.5,554.5 L1543.6,543.9 L1552.8,533.4 M860,1137 L872.6,1130.8 L885.1,1124.5 L897.5,1118.1 L909.9,1111.6 L922.2,1104.9 L934.5,1098.2 L946.7,1091.3 L958.8,1084.3 L970.9,1077.2 L982.9,1070 L994.8,1062.7 L1006.7,1055.2 L1018.5,1047.7 L1030.2,1040.1 L1041.8,1032.3 L1053.4,1024.4 L1064.9,1016.5 L1076.4,1008.4 L1087.8,1000.2 L1099.1,992 L1110.3,983.6 L1121.4,975.2 L1132.5,966.6 L1143.5,958 L1154.5,949.2 L1165.3,940.4 L1176.1,931.5 L1186.9,922.5 L1197.5,913.4 L1208.1,904.2 L1218.6,895 L1229,885.6 L1239.4,876.2 L1249.7,866.7 L1259.9,857.1 L1270.1,847.5 L1280.2,837.9 L1290.4,828.3 L1300.6,818.6 L1310.7,809 L1320.9,799.4 L1331,789.7 L1341.1,780.1 L1351.3,770.4 L1361.4,760.7 L1371.5,751 L1381.6,741.4 L1391.7,731.7 L1401.8,722 L1411.9,712.3 L1421.9,702.5 L1431.9,692.6 L1441.7,682.7 L1451.5,672.6 L1461.2,662.5 L1470.8,652.3 L1480.3,642.1 L1489.7,631.7 L1499.1,621.3 L1508.3,610.8 L1517.6,600.3 L1526.8,589.7 L1535.9,579.1 L1544.9,568.4 L1554,557.8 L1563.1,547.1 L1572.3,536.5 M915,1137 L927.4,1130.4 L939.6,1123.7 L951.9,1116.9 L964,1110 L976.1,1102.9 L988.2,1095.8 L1000.1,1088.5 L1012,1081.1 L1023.9,1073.6 L1035.6,1066 L1047.3,1058.3 L1058.9,1050.5 L1070.5,1042.6 L1081.9,1034.6 L1093.4,1026.5 L1104.7,1018.2 L1115.9,1009.9 L1127.1,1001.5 L1138.2,993 L1149.3,984.4 L1160.3,975.7 L1171.1,966.9 L1182,958 L1192.7,949 L1203.4,940 L1214,930.8 L1224.5,921.6 L1235,912.3 L1245.4,902.9 L1255.7,893.4 L1265.9,883.9 L1276.2,874.4 L1286.4,864.8 L1296.6,855.2 L1306.8,845.6 L1317,836 L1327.1,826.4 L1337.3,816.7 L1347.4,807.1 L1357.5,797.4 L1367.7,787.7 L1377.7,778 L1387.8,768.3 L1397.9,758.6 L1407.9,748.8 L1417.9,739 L1427.8,729.1 L1437.6,719.1 L1447.3,708.9 L1456.9,698.8 L1466.4,688.5 L1475.8,678.1 L1485.1,667.7 L1494.4,657.2 L1503.6,646.6 L1512.7,636 L1521.7,625.3 L1530.7,614.6 L1539.7,603.8 L1548.6,593 L1557.5,582.2 L1566.4,571.5 L1575.4,560.7 L1584.5,550.1 L1593.8,539.6 M972.7,1137 L984.8,1130 L996.9,1122.9 L1008.9,1115.6 L1020.8,1108.3 L1032.6,1100.8 L1044.4,1093.3 L1056.1,1085.6 L1067.7,1077.8 L1079.3,1069.9 L1090.8,1061.9 L1102.2,1053.8 L1113.6,1045.6 L1124.9,1037.3 L1136.1,1028.9 L1147.2,1020.4 L1158.2,1011.9 L1169.2,1003.2 L1180.1,994.4 L1191,985.5 L1201.7,976.6 L1212.4,967.6 L1223.1,958.4 L1233.6,949.2 L1244.1,939.9 L1254.5,930.5 L1264.8,921.1 L1275.1,911.6 L1285.4,902.1 L1295.6,892.6 L1305.9,883 L1316.1,873.5 L1326.3,863.9 L1336.4,854.2 L1346.6,844.6 L1356.7,834.9 L1366.8,825.2 L1376.9,815.5 L1386.9,805.7 L1396.9,796 L1406.9,786.2 L1416.9,776.3 L1426.7,766.3 L1436.4,756.2 L1446,746.1 L1455.5,735.8 L1465,725.4 L1474.3,715 L1483.5,704.5 L1492.6,693.8 L1501.7,683.2 L1510.6,672.4 L1519.5,661.6 L1528.4,650.7 L1537.1,639.8 L1545.9,628.9 L1554.6,617.9 L1563.3,606.9 L1572,596 L1580.8,585.1 L1589.7,574.3 L1598.7,563.6 L1608,553.1 L1617.8,543.1 L1628.2,533.7 M1029.2,1137 L1041.1,1129.6 L1052.9,1122.1 L1064.7,1114.4 L1076.3,1106.7 L1087.9,1098.8 L1099.4,1090.9 L1110.9,1082.8 L1122.2,1074.6 L1133.5,1066.4 L1144.8,1058 L1155.9,1049.5 L1167,1041 L1178,1032.3 L1188.9,1023.6 L1199.8,1014.7 L1210.6,1005.8 L1221.3,996.8 L1231.9,987.7 L1242.5,978.5 L1253,969.2 L1263.4,959.9 L1273.8,950.5 L1284.1,941 L1294.4,931.6 L1304.7,922.1 L1314.9,912.5 L1325.2,903 L1335.4,893.4 L1345.5,883.7 L1355.7,874.1 L1365.7,864.4 L1375.8,854.6 L1385.8,844.8 L1395.8,835 L1405.7,825.1 L1415.6,815.2 L1425.4,805.2 L1435,795.1 L1444.6,784.8 L1454.1,774.5 L1463.4,764.1 L1472.7,753.6 L1481.8,743 L1490.8,732.3 L1499.8,721.5 L1508.6,710.7 L1517.4,699.7 L1526,688.8 L1534.7,677.7 L1543.2,666.6 L1551.7,655.5 L1560.2,644.4 L1568.6,633.2 L1577.1,622.1 L1585.6,611 L1594.3,599.9 L1603.1,589 L1612.1,578.3 L1621.6,568 L1631.6,558.2 L1642.2,549.2 L1653.6,541 L1665.6,533.9 M1083.5,1137 L1095.1,1129.2 L1106.7,1121.3 L1118.1,1113.3 L1129.5,1105.1 L1140.9,1096.9 L1152.1,1088.6 L1163.3,1080.2 L1174.4,1071.7 L1185.5,1063 L1196.4,1054.3 L1207.3,1045.5 L1218.1,1036.6 L1228.9,1027.6 L1239.5,1018.6 L1250.1,1009.4 L1260.6,1000.2 L1271.1,990.9 L1281.5,981.5 L1291.9,972.1 L1302.2,962.7 L1312.5,953.2 L1322.8,943.7 L1333,934.1 L1343.2,924.5 L1353.3,914.9 L1363.4,905.2 L1373.5,895.4 L1383.5,885.6 L1393.4,875.7 L1403.3,865.8 L1413.1,855.9 L1422.9,845.8 L1432.5,835.7 L1442,825.4 L1451.4,815 L1460.8,804.6 L1470,794 L1479,783.4 L1488,772.6 L1496.9,761.8 L1505.7,750.9 L1514.4,739.9 L1522.9,728.9 L1531.4,717.7 L1539.8,706.5 L1548.2,695.3 L1556.4,684 L1564.7,672.7 L1572.9,661.3 L1581.1,650 L1589.4,638.7 L1597.7,627.4 L1606.1,616.3 L1614.8,605.3 L1624,594.7 L1633.5,584.5 L1643.7,574.8 L1654.5,566 L1666.1,558 L1678.3,551.2 L1691.1,545.6 L1704.4,541.1 L1717.9,537.6 M1134.5,1137 L1145.9,1128.8 L1157.2,1120.6 L1168.4,1112.2 L1179.5,1103.8 L1190.6,1095.2 L1201.6,1086.5 L1212.6,1077.8 L1223.4,1069 L1234.2,1060 L1244.9,1051 L1255.5,1041.9 L1266.1,1032.7 L1276.6,1023.4 L1287.1,1014.1 L1297.5,1004.8 L1307.8,995.4 L1318.1,985.9 L1328.4,976.4 L1338.6,966.8 L1348.8,957.2 L1358.9,947.5 L1369,937.8 L1379,928 L1388.9,918.1 L1398.8,908.2 L1408.6,898.2 L1418.4,888.2 L1428,878 L1437.5,867.7 L1446.9,857.3 L1456.2,846.9 L1465.4,836.3 L1474.4,825.6 L1483.4,814.9 L1492.2,804 L1501,793.1 L1509.6,782.1 L1518.2,771 L1526.6,759.8 L1534.9,748.6 L1543.2,737.3 L1551.4,725.9 L1559.5,714.5 L1567.5,703 L1575.5,691.5 L1583.5,680 L1591.5,668.5 L1599.5,657.1 L1607.6,645.6 L1615.9,634.4 L1624.6,623.4 L1633.6,612.7 L1643.2,602.5 L1653.4,592.9 L1664.2,584 L1675.8,576.2 L1688.1,569.4 L1700.9,563.8 L1714.2,559.4 L1727.7,555.9 L1741.5,553.2 L1755.3,551.1 L1769.2,549.4 L1783.2,548.1 L1797.1,547 L1811.1,546.1 L1825.1,545.3 L1839.1,544.6 L1853,543.9 L1867,543.3 L1881,542.8 L1895,542.2 L1909,541.7 L1923,541.2 L1937,540.7 M1181,1137 L1192.2,1128.5 L1203.2,1120 L1214.2,1111.3 L1225.2,1102.5 L1236,1093.7 L1246.8,1084.7 L1257.5,1075.7 L1268.1,1066.6 L1278.7,1057.4 L1289.2,1048.1 L1299.6,1038.8 L1310,1029.4 L1320.4,1020 L1330.6,1010.5 L1340.9,1001 L1351,991.3 L1361.2,981.6 L1371.2,971.9 L1381.2,962.1 L1391.1,952.2 L1400.9,942.2 L1410.6,932.2 L1420.3,922 L1429.8,911.8 L1439.3,901.4 L1448.6,891 L1457.8,880.4 L1466.9,869.8 L1475.9,859.1 L1484.8,848.2 L1493.5,837.3 L1502.2,826.3 L1510.7,815.2 L1519.2,804 L1527.5,792.8 L1535.7,781.5 L1543.9,770.1 L1551.9,758.6 L1559.9,747.1 L1567.8,735.6 L1575.7,724 L1583.5,712.4 L1591.2,700.7 L1599,689.1 L1606.8,677.4 L1614.7,665.9 L1623,654.6 L1631.5,643.4 L1640.3,632.6 L1649.7,622.2 L1659.7,612.4 L1670.3,603.3 L1681.7,595.2 L1693.8,588.2 L1706.6,582.3 L1719.8,577.6 L1733.3,573.9 L1747,571 L1760.8,568.8 L1774.7,567.1 L1788.6,565.7 L1802.6,564.5 L1816.5,563.6 L1830.5,562.8 L1844.5,562.1 L1858.5,561.4 L1872.5,560.8 L1886.4,560.2 L1900.4,559.7 L1914.4,559.1 L1928.4,558.6 L1942.4,558.1 M1222.9,1137 L1233.9,1128.3 L1244.7,1119.4 L1255.5,1110.5 L1266.2,1101.5 L1276.8,1092.4 L1287.4,1083.2 L1297.9,1073.9 L1308.4,1064.6 L1318.8,1055.2 L1329.1,1045.8 L1339.3,1036.3 L1349.5,1026.7 L1359.7,1017 L1369.7,1007.2 L1379.7,997.4 L1389.6,987.5 L1399.4,977.5 L1409.1,967.4 L1418.7,957.3 L1428.2,947 L1437.6,936.6 L1446.9,926.1 L1456.1,915.6 L1465.2,904.9 L1474.1,894.1 L1482.9,883.3 L1491.7,872.3 L1500.3,861.3 L1508.8,850.1 L1517.2,838.9 L1525.4,827.6 L1533.6,816.3 L1541.7,804.9 L1549.7,793.4 L1557.6,781.8 L1565.4,770.2 L1573.2,758.5 L1580.9,746.8 L1588.5,735.1 L1596.1,723.3 L1603.6,711.6 L1611.3,699.8 L1619.1,688.2 L1627.1,676.7 L1635.4,665.4 L1644,654.4 L1653,643.7 L1662.6,633.5 L1672.9,624 L1683.8,615.3 L1695.5,607.6 L1708,601.1 L1720.9,595.8 L1734.3,591.6 L1747.9,588.4 L1761.7,585.8 L1775.5,583.9 L1789.4,582.3 L1803.4,581 L1817.3,580 L1831.3,579.1 L1845.3,578.4 L1859.3,577.7 L1873.3,577 L1887.2,576.4 L1901.2,575.9 L1915.2,575.3 L1929.2,574.8 L1943.2,574.3 M1261.8,1137 L1272.5,1128 L1283.2,1118.9 L1293.7,1109.8 L1304.3,1100.5 L1314.7,1091.2 L1325.1,1081.8 L1335.4,1072.3 L1345.7,1062.8 L1355.8,1053.2 L1365.9,1043.4 L1375.9,1033.6 L1385.8,1023.7 L1395.6,1013.8 L1405.3,1003.7 L1415,993.5 L1424.5,983.3 L1433.9,972.9 L1443.2,962.4 L1452.3,951.8 L1461.4,941.2 L1470.3,930.4 L1479.1,919.5 L1487.9,908.5 L1496.5,897.5 L1504.9,886.4 L1513.3,875.1 L1521.6,863.8 L1529.7,852.5 L1537.8,841 L1545.7,829.5 L1553.6,817.9 L1561.4,806.3 L1569.1,794.6 L1576.7,782.8 L1584.2,771 L1591.7,759.2 L1599.2,747.3 L1606.6,735.5 L1614.1,723.6 L1621.7,711.9 L1629.5,700.3 L1637.5,688.8 L1645.8,677.5 L1654.5,666.5 L1663.7,656 L1673.4,645.9 L1683.8,636.5 L1694.9,628 L1706.8,620.7 L1719.4,614.5 L1732.5,609.5 L1745.9,605.6 L1759.6,602.5 L1773.4,600.2 L1787.3,598.4 L1801.2,596.9 L1815.1,595.7 L1829.1,594.7 L1843.1,593.9 L1857.1,593.2 L1871,592.5 L1885,591.9 L1899,591.3 L1913,590.7 L1927,590.2 L1941,589.7 M1298.7,1137 L1309.2,1127.8 L1319.7,1118.5 L1330.1,1109.1 L1340.4,1099.6 L1350.6,1090 L1360.7,1080.3 L1370.7,1070.6 L1380.7,1060.7 L1390.5,1050.8 L1400.3,1040.7 L1409.9,1030.6 L1419.5,1020.3 L1428.9,1010 L1438.2,999.5 L1447.4,989 L1456.5,978.3 L1465.4,967.5 L1474.2,956.7 L1483,945.7 L1491.6,934.7 L1500,923.5 L1508.4,912.3 L1516.7,901 L1524.8,889.6 L1532.9,878.2 L1540.8,866.7 L1548.7,855.1 L1556.4,843.4 L1564.1,831.7 L1571.7,819.9 L1579.2,808.1 L1586.6,796.2 L1594,784.3 L1601.3,772.4 L1608.6,760.4 L1615.9,748.5 L1623.3,736.6 L1630.9,724.9 L1638.7,713.2 L1646.7,701.8 L1655,690.5 L1663.7,679.5 L1672.9,669 L1682.7,659 L1693.2,649.7 L1704.5,641.4 L1716.5,634.1 L1729.1,628.1 L1742.2,623.3 L1755.7,619.5 L1769.4,616.6 L1783.2,614.4 L1797.1,612.6 L1811.1,611.2 L1825,610 L1839,609.1 L1852.9,608.3 L1866.9,607.5 L1880.9,606.9 L1894.9,606.3 L1908.9,605.7 L1922.9,605.1 L1936.9,604.6 M1333.8,1137 L1344.1,1127.5 L1354.3,1117.9 L1364.3,1108.2 L1374.3,1098.4 L1384.2,1088.5 L1394,1078.5 L1403.7,1068.4 L1413.3,1058.2 L1422.8,1047.9 L1432.1,1037.5 L1441.3,1026.9 L1450.4,1016.3 L1459.4,1005.6 L1468.3,994.7 L1477,983.8 L1485.7,972.8 L1494.2,961.7 L1502.6,950.5 L1510.9,939.2 L1519,927.8 L1527.1,916.4 L1535.1,904.8 L1542.9,893.2 L1550.7,881.6 L1558.3,869.9 L1565.9,858.1 L1573.4,846.3 L1580.8,834.4 L1588.1,822.4 L1595.4,810.5 L1602.5,798.5 L1609.7,786.4 L1616.9,774.4 L1624.1,762.4 L1631.5,750.6 L1639.1,738.8 L1646.8,727.1 L1654.8,715.6 L1663.1,704.3 L1671.8,693.3 L1681,682.8 L1690.8,672.8 L1701.3,663.5 L1712.5,655.2 L1724.5,648 L1737.2,642 L1750.4,637.2 L1763.9,633.5 L1777.6,630.6 L1791.4,628.4 L1805.3,626.6 L1819.2,625.2 L1833.2,624.1 L1847.1,623.2 L1861.1,622.3 L1875.1,621.6 L1889.1,621 L1903.1,620.3 L1917,619.8 L1931,619.2 M1370.1,1137 L1380.1,1127.1 L1389.9,1117.2 L1399.6,1107.1 L1409.2,1096.9 L1418.7,1086.6 L1428,1076.2 L1437.3,1065.7 L1446.4,1055 L1455.4,1044.3 L1464.3,1033.5 L1473,1022.6 L1481.6,1011.5 L1490.1,1000.4 L1498.5,989.2 L1506.8,977.9 L1515,966.5 L1523,955.1 L1531,943.6 L1538.8,932 L1546.6,920.3 L1554.2,908.6 L1561.7,896.8 L1569.2,884.9 L1576.5,873 L1583.8,861.1 L1591,849 L1598.2,837 L1605.2,824.9 L1612.2,812.8 L1619.3,800.7 L1626.4,788.6 L1633.6,776.7 L1641,764.8 L1648.5,753 L1656.3,741.3 L1664.2,729.8 L1672.5,718.5 L1681.2,707.5 L1690.4,697 L1700.3,687 L1710.8,677.8 L1722.2,669.6 L1734.2,662.5 L1747,656.7 L1760.2,652.1 L1773.7,648.4 L1787.4,645.6 L1801.3,643.5 L1815.1,641.8 L1829.1,640.4 L1843,639.3 L1857,638.4 L1871,637.6 L1885,636.8 L1899,636.2 L1912.9,635.6 L1926.9,635 L1940.9,634.5 M1407.9,1137 L1417.4,1126.7 L1426.7,1116.3 L1435.9,1105.7 L1445,1095.1 L1454,1084.3 L1462.8,1073.5 L1471.6,1062.5 L1480.2,1051.5 L1488.6,1040.3 L1497,1029.1 L1505.2,1017.8 L1513.3,1006.4 L1521.3,994.9 L1529.2,983.3 L1537,971.7 L1544.7,960 L1552.3,948.2 L1559.8,936.4 L1567.2,924.5 L1574.5,912.5 L1581.7,900.5 L1588.8,888.5 L1595.9,876.4 L1602.8,864.3 L1609.8,852.1 L1616.6,839.9 L1623.5,827.7 L1630.5,815.6 L1637.6,803.5 L1644.9,791.5 L1652.2,779.6 L1659.7,767.8 L1667.4,756.1 L1675.4,744.6 L1683.7,733.3 L1692.5,722.4 L1701.8,712 L1711.7,702.1 L1722.4,693.1 L1733.9,685.1 L1746.2,678.3 L1759,672.7 L1772.3,668.3 L1785.9,664.9 L1799.6,662.2 L1813.5,660.2 L1827.4,658.6 L1841.3,657.3 L1855.3,656.2 L1869.2,655.3 L1883.2,654.5 L1897.2,653.8 L1911.2,653.2 L1925.2,652.6 L1939.2,652 M1447.2,1137 L1456.1,1126.2 L1464.9,1115.3 L1473.5,1104.2 L1482,1093.1 L1490.4,1081.9 L1498.7,1070.6 L1506.8,1059.2 L1514.8,1047.8 L1522.7,1036.2 L1530.5,1024.6 L1538.2,1012.9 L1545.8,1001.1 L1553.3,989.3 L1560.7,977.4 L1568,965.4 L1575.2,953.4 L1582.3,941.4 L1589.3,929.2 L1596.2,917.1 L1603.1,904.9 L1609.9,892.6 L1616.6,880.4 L1623.4,868.1 L1630.2,855.9 L1637.1,843.7 L1644.1,831.5 L1651.1,819.5 L1658.3,807.4 L1665.6,795.5 L1673.1,783.7 L1680.9,772 L1688.9,760.6 L1697.3,749.4 L1706.2,738.5 L1715.7,728.2 L1725.8,718.6 L1736.8,709.9 L1748.5,702.3 L1761,695.9 L1774,690.7 L1787.4,686.6 L1801,683.5 L1814.8,681.1 L1828.7,679.2 L1842.6,677.7 L1856.6,676.5 L1870.5,675.5 L1884.5,674.6 L1898.5,673.9 L1912.5,673.2 L1926.4,672.6 L1940.4,672 M1488.1,1137 L1496.4,1125.7 L1504.5,1114.3 L1512.4,1102.8 L1520.3,1091.2 L1528,1079.5 L1535.7,1067.8 L1543.2,1056 L1550.6,1044.1 L1558,1032.2 L1565.2,1020.2 L1572.3,1008.1 L1579.3,996 L1586.3,983.9 L1593.2,971.7 L1599.9,959.4 L1606.6,947.1 L1613.3,934.8 L1619.8,922.4 L1626.4,910.1 L1633.1,897.8 L1639.8,885.5 L1646.6,873.2 L1653.4,861 L1660.4,848.9 L1667.4,836.8 L1674.6,824.7 L1681.9,812.8 L1689.5,801 L1697.3,789.4 L1705.4,778 L1714,767 L1723.1,756.3 L1732.9,746.3 L1743.4,737 L1754.7,728.8 L1766.8,721.7 L1779.5,716 L1792.7,711.3 L1806.3,707.8 L1820,705 L1833.8,702.9 L1847.7,701.2 L1861.7,699.8 L1875.6,698.7 L1889.6,697.8 L1903.6,697 L1917.6,696.3 L1931.5,695.7 M1530.6,1137 L1538.2,1125.2 L1545.6,1113.3 L1552.8,1101.3 L1560,1089.3 L1567.1,1077.3 L1574.1,1065.1 L1581,1052.9 L1587.8,1040.7 L1594.5,1028.4 L1601.2,1016.1 L1607.7,1003.7 L1614.2,991.3 L1620.6,978.9 L1627,966.4 L1633.5,954 L1640,941.6 L1646.5,929.2 L1653.1,916.9 L1659.8,904.6 L1666.5,892.3 L1673.3,880.1 L1680.3,867.9 L1687.3,855.8 L1694.5,843.8 L1701.9,831.9 L1709.5,820.2 L1717.5,808.7 L1725.9,797.4 L1734.7,786.6 L1744.2,776.3 L1754.5,766.8 L1765.5,758.2 L1777.4,750.7 L1789.9,744.5 L1803,739.5 L1816.4,735.6 L1830.1,732.6 L1843.9,730.3 L1857.8,728.5 L1871.7,727.1 L1885.7,725.9 L1899.7,725 L1913.6,724.1 L1927.6,723.4 L1941.6,722.7 M1574.3,1137 L1581,1124.8 L1587.7,1112.4 L1594.3,1100.1 L1600.8,1087.7 L1607.2,1075.3 L1613.6,1062.8 L1619.9,1050.3 L1626.1,1037.7 L1632.3,1025.2 L1638.5,1012.6 L1644.8,1000.1 L1651.2,987.7 L1657.6,975.2 L1664,962.8 L1670.5,950.4 L1677,938 L1683.7,925.7 L1690.4,913.4 L1697.2,901.2 L1704.1,889 L1711.2,876.9 L1718.5,865 L1726.1,853.2 L1733.9,841.6 L1742.1,830.2 L1750.9,819.3 L1760.2,808.9 L1770.4,799.2 L1781.3,790.5 L1793.1,782.9 L1805.5,776.5 L1818.6,771.5 L1832,767.5 L1845.7,764.4 L1859.5,762 L1873.3,760.2 L1887.3,758.7 L1901.2,757.6 L1915.2,756.6 L1929.1,755.7 L1943.1,755 M1618.7,1137 L1624.8,1124.4 L1630.8,1111.7 L1636.8,1099.1 L1642.8,1086.4 L1648.9,1073.8 L1655,1061.2 L1661.2,1048.7 L1667.3,1036.1 L1673.6,1023.6 L1679.9,1011.1 L1686.2,998.6 L1692.6,986.1 L1699.1,973.7 L1705.6,961.3 L1712.2,949 L1718.9,936.7 L1725.8,924.5 L1732.8,912.4 L1740,900.4 L1747.5,888.5 L1755.3,876.9 L1763.5,865.6 L1772.3,854.7 L1781.7,844.3 L1791.9,834.7 L1803,826.1 L1814.8,818.7 L1827.4,812.6 L1840.5,807.7 L1854,803.8 L1867.7,800.9 L1881.5,798.6 L1895.4,796.9 L1909.3,795.5 L1923.3,794.3 L1937.2,793.4 M1665.6,1137 L1671.6,1124.3 L1677.5,1111.7 L1683.5,1099 L1689.6,1086.4 L1695.7,1073.8 L1701.8,1061.2 L1708,1048.6 L1714.2,1036.1 L1720.5,1023.6 L1726.9,1011.1 L1733.4,998.7 L1739.9,986.3 L1746.6,974 L1753.4,961.8 L1760.4,949.7 L1767.6,937.7 L1775.1,925.9 L1783.1,914.3 L1791.5,903.1 L1800.5,892.4 L1810.3,882.4 L1820.9,873.3 L1832.4,865.3 L1844.6,858.5 L1857.5,853 L1870.8,848.7 L1884.4,845.4 L1898.2,842.9 L1912.1,840.9 L1926,839.3 L1939.9,838.1 M1717.2,1137 L1723.1,1124.3 L1729.1,1111.7 L1735.2,1099.1 L1741.3,1086.5 L1747.4,1073.9 L1753.7,1061.3 L1760,1048.8 L1766.4,1036.4 L1772.9,1024 L1779.6,1011.7 L1786.4,999.5 L1793.5,987.4 L1800.9,975.5 L1808.7,963.9 L1817,952.6 L1825.9,941.8 L1835.5,931.7 L1846.1,922.4 L1857.4,914.3 L1869.6,907.4 L1882.5,901.8 L1895.8,897.5 L1909.4,894.1 L1923.1,891.5 L1937,889.5 M1775.1,1137 L1781.2,1124.4 L1787.3,1111.8 L1793.5,1099.2 L1799.8,1086.7 L1806.2,1074.3 L1812.8,1062 L1819.7,1049.7 L1826.7,1037.7 L1834.2,1025.8 L1842.1,1014.2 L1850.5,1003.1 L1859.7,992.5 L1869.6,982.6 L1880.5,973.8 L1892.2,966.2 L1904.8,959.9 L1917.8,954.9 L1931.3,951 M1842.9,1137 L1849.4,1124.6 L1856.1,1112.3 L1863.1,1100.2 L1870.5,1088.3 L1878.4,1076.7 L1886.9,1065.6 L1896.1,1055.1 L1906.2,1045.4 L1917.2,1036.7 L1929.1,1029.4 L1941.7,1023.3 M1918.7,1137 L1927.6,1126.1 L1937.2,1116" fill="none" stroke="#9d9bd0" stroke-width="2.8" opacity="0.25"/>
</g>
<g id="studio">
<polygon points="329,654 1061,1075 1061,1087.5 329,663.5" fill="#0a3f63" />
<polygon points="1061,1075 1591,771 1591,783.5 1061,1087.5" fill="#0b4368" />
<polygon points="329,654 862,961 1394,655 858,350" fill="#7cc0d6" />
<polygon points="862,961 1061,1075 1591,771 1394,655" fill="#3dbcf6" />
<polygon points="402.7,622.7 512,559 512,666" fill="#6fb2c6" />
<polygon points="329,381 339,386.8 339,660 329,654" fill="#4ec4ef" />
<polygon points="339,386.8 869.5,80.3 869.5,353.5 339,660" fill="#8ad8f6" />
<polygon points="329,381 859.5,74.5 869.5,80.3 339,386.8" fill="#58c8f0" />
<line x1="382" y1="392" x2="870" y2="108.5" stroke="#c9c6e8" stroke-width="4.8" stroke-linecap="round"/><line x1="382" y1="391.3" x2="870" y2="107.8" stroke="#ecebf9" stroke-width="2.4" stroke-linecap="round"/>
<line x1="853.8" y1="91" x2="1243" y2="318" stroke="#c9c6e8" stroke-width="4.8" stroke-linecap="round"/><line x1="853.8" y1="90.3" x2="1243" y2="317.3" stroke="#ecebf9" stroke-width="2.4" stroke-linecap="round"/>
<polygon points="841.1,236 888,236 888,470 841.1,470" fill="#66aee3" />
<polygon points="509.6,425 521.3,425 521.3,676 509.6,668" fill="#0b5a94" />
<polygon points="521.3,395 549.9,385 549.9,690 521.3,676" fill="#66aee3" />
<clipPath id="scrclip"><path d="M549.9,640 L549.9,387.7 C552.7,384.5 559.8,375.5 566.6,368.6 C573.4,361.7 581.2,353.7 590.5,346.4 C599.8,339.1 611.7,331.3 622.3,325 C632.9,318.7 642.1,314.4 654,308.5 C665.9,302.6 679.2,296.6 693.6,289.9 C708,283.1 724.9,274.2 740.5,268 C756.1,261.8 770.5,256.4 787.3,252.4 C804.1,248.4 824.3,245.6 841.1,243.8 C857.9,242 880.2,241.9 888,241.5 L841.1,243.8 L841.1,470 Z"/></clipPath>
<path d="M549.9,640 L549.9,387.7 C552.7,384.5 559.8,375.5 566.6,368.6 C573.4,361.7 581.2,353.7 590.5,346.4 C599.8,339.1 611.7,331.3 622.3,325 C632.9,318.7 642.1,314.4 654,308.5 C665.9,302.6 679.2,296.6 693.6,289.9 C708,283.1 724.9,274.2 740.5,268 C756.1,261.8 770.5,256.4 787.3,252.4 C804.1,248.4 824.3,245.6 841.1,243.8 C857.9,242 880.2,241.9 888,241.5 L841.1,243.8 L841.1,470 Z" fill="#ffffff"/>
<g clip-path="url(#scrclip)">
<path d="M787,231.3 C786.1,234.5 785.9,240.4 781.6,250.7 C777.3,261 769.3,279.7 761,293.1 C752.7,306.4 744.1,318.7 731.9,330.7 C719.7,342.8 703.2,354.8 687.7,365.2 C672.3,375.7 653.6,384.2 639.3,393.4 C625,402.7 614.3,410.2 602.2,420.9 C590,431.6 577.3,444.6 566.3,457.5 C555.3,470.4 541.2,491.6 536.2,498.4 L553.8,511.6 C558.8,505.1 573,484.6 583.7,472.5 C594.4,460.4 606.3,448.8 617.8,439.1 C629.3,429.4 638.6,423.3 652.7,414.6 C666.8,405.8 686,397.7 702.3,386.8 C718.5,375.9 736.7,362.6 750.1,349.3 C763.6,335.9 773.6,321.6 783,306.9 C792.4,292.3 801.4,272.7 806.4,261.3 C811.4,250 811.9,242.5 813,238.7 Z" fill="#8fb5ea"/>
<path d="M841.5,286.2 C836.4,290.7 820.4,303.8 811.2,313.1 C802.1,322.4 796.4,331.4 786.7,342.1 C777,352.8 765.1,365.9 752.9,377.2 C740.8,388.6 727,399.5 713.8,410.1 C700.6,420.8 684.6,430.5 673.6,441 C662.5,451.5 654.3,462.2 647.4,473.1 C640.6,484 634.8,500.8 632.3,506.4 L647.7,513.6 C650.2,508.5 656.1,492.7 662.6,482.9 C669,473.1 675.8,464.5 686.4,455 C697,445.5 712.8,436.2 726.2,425.9 C739.6,415.5 754.2,404.1 767.1,392.8 C779.9,381.5 793,368.2 803.3,357.9 C813.6,347.6 819.6,339.6 828.8,330.9 C838,322.2 853.6,310 858.5,305.8 Z" fill="#8fb5ea"/>
<path d="M850,388 C844.1,388.1 826.3,386.3 814.4,388.6 C802.5,390.8 790.6,395.7 778.8,401.3 C766.9,406.8 754.4,414.1 743.6,422 C732.7,429.8 718.7,444.1 713.7,448.5 L716.3,451.5 C721.3,447.3 735.6,433.5 746.4,426 C757.3,418.6 769.7,411.8 781.2,406.7 C792.8,401.6 804.1,397.2 815.6,395.4 C827.1,393.7 844.3,395.9 850,396 Z" fill="#8fb5ea"/>
<g fill="none" stroke="#8fb5ea" stroke-width="2">
<path d="M598,337 C620,356 660,362 700,352 C730,344 752,330 764,312"/>
<path d="M572,362 C578,390 592,415 612,432 C630,447 650,456 672,458"/>
<path d="M755,262 C748,300 725,335 695,362 C672,384 660,410 655,440"/>
<path d="M845,280 C820,281 800,288 786,300"/>
<path d="M845,370 C810,372 770,386 735,410 C712,428 690,445 670,470"/>
<path d="M548,528 C560,500 590,474 625,462"/>
<path d="M548,562 C566,528 592,505 622,488"/>
<path d="M632,428 C650,438 676,440 700,432"/>
<path d="M690,380 C700,400 700,420 690,446"/>
</g></g>
<path d="M888,209.5 C879,210.2 850.9,211.2 834.1,213.4 C817.3,215.6 802.9,218.9 787.3,222.8 C771.7,226.7 756.1,231.2 740.5,236.8 C724.9,242.4 708,249.2 693.6,256.3 C679.2,263.4 666,272.8 654.1,279.5 C642.2,286.2 632.9,289.9 622.3,296.3 C611.7,302.7 599.8,310.7 590.5,317.7 C581.2,324.7 574.6,330.4 566.6,338.4 C558.6,346.4 548.8,357.3 542.7,365.5 C536.6,373.7 533.3,380.3 530,387.7 C526.7,395.1 524.2,402.6 522.8,410 C521.3,417.4 521.5,428.3 521.3,432 L521.3,436 C523.6,429 531.6,413.2 542.7,397.3 L549.9,387.7 C552.7,384.5 559.8,375.5 566.6,368.6 C573.4,361.7 581.2,353.7 590.5,346.4 C599.8,339.1 611.7,331.3 622.3,325 C632.9,318.7 642.1,314.4 654,308.5 C665.9,302.6 679.2,296.6 693.6,289.9 C708,283.1 724.9,274.2 740.5,268 C756.1,261.8 770.5,256.4 787.3,252.4 C804.1,248.4 824.3,245.6 841.1,243.8 C857.9,242 880.2,241.9 888,241.5 Z" fill="#0f8dcc"/>
<path d="M876.3,204 C869.3,204.4 848.9,204.6 834.1,206.4 C819.3,208.2 802.9,211.2 787.3,215 C771.7,218.8 756.1,223.6 740.5,229 C724.9,234.4 709.2,240.7 693.6,247.7 C678,254.7 658.7,265 646.8,271.2 C634.9,277.4 631.7,279.2 622.3,285.1 C612.9,291 601.1,298.5 590.5,306.6 C579.9,314.7 567.9,324.9 558.6,333.6 C549.3,342.4 541.4,350.6 534.8,359.1 C528.2,367.6 522.9,376.1 518.9,384.6 C514.9,393.1 512.4,402.1 510.9,410 C509.3,417.9 509.8,428.3 509.6,432 L521.3,432 C521.5,428.3 521.3,417.4 522.8,410 C524.2,402.6 526.7,395.1 530,387.7 C533.3,380.3 536.6,373.7 542.7,365.5 C548.8,357.3 558.6,346.4 566.6,338.4 C574.6,330.4 581.2,324.7 590.5,317.7 C599.8,310.7 611.7,302.7 622.3,296.3 C632.9,289.9 642.2,286.2 654.1,279.5 C666,272.8 679.2,263.4 693.6,256.3 C708,249.2 724.9,242.4 740.5,236.8 C756.1,231.2 771.7,226.7 787.3,222.8 C802.9,218.9 817.3,215.6 834.1,213.4 C850.9,211.2 879,210.2 888,209.5 Z" fill="#0b5a94"/>
<ellipse cx="789" cy="619.5" rx="250" ry="118" transform="rotate(-18.5 789 619.5)" fill="#6fb2c6" opacity="0.75"/>
<clipPath id="farclip"><polygon points="480,760 1120,430 1120,300 480,300"/></clipPath>
<g clip-path="url(#farclip)">
<ellipse cx="767.5" cy="563.4" rx="234.8" ry="126.8" transform="rotate(-18.5 767.5 563.4)" fill="#1087c8"/>
<ellipse cx="794.1" cy="618" rx="246.6" ry="167" transform="rotate(-18.5 794.1 618)" fill="#7cc0d6"/>
</g>
<ellipse cx="786" cy="602.5" rx="247" ry="115" transform="rotate(-18.5 786 602.5)" fill="#0b619e" />
<ellipse cx="789" cy="595.5" rx="248" ry="116" transform="rotate(-18.5 789 595.5)" fill="#0b619e" />
<ellipse cx="783" cy="589.5" rx="246" ry="114" transform="rotate(-18.5 783 589.5)" fill="#118ccc" />
<ellipse cx="783" cy="589.5" rx="237" ry="105" transform="rotate(-18.5 783 589.5)" fill="none" stroke="#c9eefc" stroke-width="2.2"/>
<g fill="none" stroke="#0d2a3f" stroke-width="1.1">
<path d="M553,640 C548,700 560,740 590,770 C640,820 700,810 740,842 C770,866 780,892 810,892 C830,892 850,890 862,893"/>
<path d="M1046,410 C1056,430 1058,460 1057,485 C1060,500 1080,500 1100,500 C1125,502 1140,518 1152,528"/>
</g>
<ellipse cx="633" cy="592" rx="20" ry="11" fill="#0c65a2"/>
<path d="M612,590 Q614,602 634,604" stroke="#c9eefc" stroke-width="1.6" fill="none"/>
<path d="M600,580 L599,520 Q600,506 610,505 Q622,507 623,525 L618,560 L612,582 Z" fill="#0b3b5c"/>
<ellipse cx="616" cy="626" rx="18" ry="12" fill="#0c65a2"/>
<path d="M598,626 Q600,640 616,640" stroke="#c9eefc" stroke-width="1.4" fill="none"/>
<path d="M606,606 L624,612 L623,620 L612,632 L620,636 L616,642 L604,636 L605,626 L614,618 L604,614 Z" fill="#0b3b5c"/>
<path d="M690,502 L688.6,450 Q689,437 702,433.5 L716,431.6 Q725,432 725,442 L726,492 Z" fill="#0b3b5c"/>
<path d="M857,433 L856,392 Q856,377 866,377 Q882,380 883.5,398 L884,436 Z" fill="#0b3b5c"/>
<path d="M804,452 Q806,440 822,437 L838,435 L842,448 L812,456 Z" fill="#0b3b5c"/>
<path d="M831,395 Q833,390 842,389 L856,389 Q868,391 871,402 L873,437 L852,445 L833,440 Z" fill="#b9ddf5"/>
<path d="M858,390 Q868,391 871,402 L873,432 L864,428 L860,400 Z" fill="#b7c1ec"/>
<path d="M840.5,397 L844,397 L843.2,428 L840.3,434 L837.8,428 Z" fill="#0b3355"/>
<path d="M832,411 L808,408 L797,402 L795,406 L800,410 L795,413 L800,417 L810,416 L831,421 Z" fill="#f9bda2"/>
<path d="M866,418 L872,420 L870,436 L848,448 L836,448 Q832,444 838,441 L852,437 L862,430 Z" fill="#f9bda2"/>
<path d="M841,386 L850,386 L849,393 L843,396 Z" fill="#f9bda2"/>
<ellipse cx="845.5" cy="381" rx="7.6" ry="9.2" fill="#fbc3aa"/>
<path d="M835,371 Q838,363 850,364 Q860,366 859,378 L856,388 Q855,380 850,377 Q843,376 838,373 Z" fill="#3a2a2e"/>
<path d="M719,447 Q722,441 730,443 L740,447 L752,462 L762,449 L766,452 L756,472 Q752,474 748,470 L742,462 L744,486 L722,492 Z" fill="#0b3556"/>
<path d="M761,450 Q764,443 775,441 L774,445 L766,453 Z" fill="#f9bda2"/>
<path d="M737,487 L742,486 L750,494 L746,498 Z" fill="#f9bda2"/>
<path d="M725,443 L732,441 L734,452 L729,450 Z" fill="#f6a78c"/>
<ellipse cx="731" cy="436" rx="5.8" ry="7" fill="#f9bda2"/>
<path d="M718,428 Q718,417 730,417 Q741,418 740,430 L738,434 Q734,428 728,430 Q724,434 724,440 Q718,436 718,428 Z" fill="#0b3556"/>
<path d="M629,606 L629,668 Q630,678 642,682 L689,696 Q706,697 725,684 L725,604 Z" fill="#0c3e63"/>
<path d="M629,606 L629,668 Q630,678 642,682 L644,682.6 L644,606 Z" fill="#155a8c"/>
<path d="M689,696 Q706,697 725,684 L725,604 L694,610 L694,696.5 Z" fill="#0f4a76"/>
<path d="M622,664 Q622,684 642,690 L689,704 Q712,706 732,690 L725,684 Q706,697 689,696 L642,682 Q630,678 629,668 Z" fill="#0c65a2"/>
<path d="M910,480 L940,468 L940,546 Q938,554 930,556 L910,560 Z" fill="#0c3e63"/>
<path d="M725.7,646.9 C731.1,642.7 744.9,630.8 757.9,621.6 C770.9,612.4 788.6,600.1 803.9,591.7 C819.2,583.3 832.3,577.9 849.9,571 C867.5,564.1 899.7,553.8 909.7,550.3 L909.7,560 C899.7,563.4 867.5,573.6 849.9,580.5 C832.3,587.4 819.2,593 803.9,601.5 C788.6,610 770.9,622.2 757.9,631.5 C744.9,640.8 731.1,652.8 725.7,657 Z" fill="#0c3e63"/>
<path d="M725.7,600.9 C731.1,595.5 744.9,578.7 757.9,568.7 C770.9,558.7 788.6,549.1 803.9,541.1 C819.2,533.1 832.3,527 849.9,520.5 C867.5,514 899.7,505.2 909.7,502.1 L909.7,550.3 C899.7,553.8 867.5,564.1 849.9,571 C832.3,577.9 819.2,583.3 803.9,591.7 C788.6,600.1 770.9,612.4 757.9,621.6 C744.9,630.8 731.1,642.7 725.7,646.9 Z" fill="#a9e1f8"/>
<g fill="none" stroke="#6ec6ee" stroke-width="1.2" opacity="0.9"><path d="M728,640 C765,605 805,575 905,530"/><path d="M730,622 C780,596 820,580 905,540"/><path d="M760,600 C800,600 850,556 905,548"/><path d="M740,612 C790,572 850,552 900,516"/><path d="M770,585 C800,570 840,570 870,540"/></g>
<path d="M938.4,469.9 C938.2,470.7 940.5,471.8 937.2,474.5 C934,477.2 929.6,482.6 918.9,486 C908.2,489.4 888.2,491 872.9,495.2 C857.6,499.4 842.2,504.4 826.9,511.3 C811.6,518.2 794.3,527.8 780.9,536.6 C767.5,545.4 756.7,555.3 746.4,564.1 C736.1,572.9 725.4,583.3 718.9,589.4 C712.4,595.5 712.4,597.8 707.4,600.9 C702.4,604 697.8,607 689,607.8 C680.2,608.6 663.7,607.4 654.5,605.5 C645.3,603.6 638,599.4 633.8,596.3 C629.6,593.2 630,588.6 629.2,587.1 L629.2,600.1 C630,601.6 629.6,605.6 633.8,609.3 C638,613 645.3,619.9 654.5,622.5 C663.7,625.1 680.2,625.6 689,624.8 C697.8,624 702.4,621 707.4,617.9 C712.4,614.8 712.4,612.5 718.9,606.4 C725.4,600.3 736.1,589.9 746.4,581.1 C756.7,572.3 767.5,562.4 780.9,553.6 C794.3,544.8 811.6,535.2 826.9,528.3 C842.2,521.4 857.6,516.4 872.9,512.2 C888.2,508 908.2,507.1 918.9,503 C929.6,498.9 934,490.9 937.2,487.5 C940.5,484.1 938.2,483.7 938.4,482.9 Z" fill="#0b3d63"/>
<path d="M938.4,469.9 C938.2,470.7 940.5,471.8 937.2,474.5 C934,477.2 929.6,482.6 918.9,486 C908.2,489.4 888.2,491 872.9,495.2 C857.6,499.4 842.2,504.4 826.9,511.3 C811.6,518.2 794.3,527.8 780.9,536.6 C767.5,545.4 756.7,555.3 746.4,564.1 C736.1,572.9 725.4,583.3 718.9,589.4 C712.4,595.5 712.4,597.8 707.4,600.9 C702.4,604 697.8,607 689,607.8 C680.2,608.6 663.7,607.4 654.5,605.5 C645.3,603.6 638,599.4 633.8,596.3 C629.6,593.2 630,588.6 629.2,587.1 C630,586.3 629.6,587.1 633.8,582.5 C638,577.9 645.3,568.7 654.5,559.5 C663.7,550.3 677.5,537.4 689,527.4 C700.5,517.4 711.9,507.9 723.4,499.8 C734.9,491.8 744.5,486 757.9,479.1 C771.3,472.2 788.6,464.1 803.9,458.4 C819.2,452.6 836.5,447.7 849.9,444.6 C863.3,441.5 872.9,439.6 884.4,440 C895.9,440.4 910.5,443.8 918.9,446.9 C927.3,450 931.8,454.6 935,458.4 C938.2,462.2 937.8,468 938.4,469.9 Z" fill="#5f8fc5"/>
<path d="M771,471 h7 v11 q-3.5,2 -7,0 Z" fill="#0b3355"/><ellipse cx="774.5" cy="471" rx="3.5" ry="1.6" fill="#1a4f78"/>
<path d="M868,448 h7 v11 q-3.5,2 -7,0 Z" fill="#0b3355"/><ellipse cx="871.5" cy="448" rx="3.5" ry="1.6" fill="#1a4f78"/>
<polygon points="733,502 752,491 776,503 757,516" fill="#eef3fd" />
<polygon points="737,495 752,486 777,499 760,509" fill="#bfe3f7" />
<path d="M737,487 L742,485 L751,494 L746,498 Z" fill="#f9bda2"/>
<path d="M834,446 Q834,441 842,440 L850,441 L848,448 L838,449 Z" fill="#f9bda2"/>
<g stroke="#e9e9f7" stroke-width="2.6" stroke-linecap="round"><line x1="1046" y1="445" x2="1007" y2="484"/><line x1="1048" y1="448" x2="1060" y2="514"/><line x1="1050" y1="445" x2="1065" y2="478"/></g>
<circle cx="1007" cy="484.5" r="1.8" fill="#0b3b5c"/><circle cx="1060" cy="515" r="1.8" fill="#0b3b5c"/><circle cx="1065" cy="479" r="1.8" fill="#0b3b5c"/>
<rect x="1035" y="412" width="8" height="19" rx="1.5" fill="#0b3b5c"/>
<polygon points="1008,351 1035,335.5 1068.5,353.8 1041,369" fill="#0f5a8a" />
<polygon points="1008,351 1041,369 1041,411.5 1008,396" fill="#0b4468" />
<polygon points="1041,369 1068.5,353.8 1068.5,397.5 1041,411.5" fill="#0b3b5c" />
<polygon points="1010.5,356 1039,371.5 1039,408 1010.5,394.5" fill="#f7dca6" />
<polygon points="1010.5,356 1039,371.5 1039,392 1024,385 1010.5,394.5" fill="#e6c78c" />
<polygon points="1010.5,394.5 1024,385 1039,392 1039,408" fill="#f9e3b4" />
<polygon points="1010.5,356 1024,363 1024,385 1010.5,394.5" fill="#f3d59c" />
<ellipse cx="560" cy="752" rx="40" ry="18" fill="#6fb2c6" opacity="0.8"/>
<g stroke="#eef0fb" stroke-width="2.4" stroke-linecap="round"><line x1="556.5" y1="612" x2="557.5" y2="700"/><line x1="555" y1="680" x2="521.5" y2="737"/><line x1="559" y1="680" x2="580" y2="770"/><line x1="559" y1="680" x2="585" y2="731"/></g>
<rect x="553" y="664" width="8" height="18" rx="3" fill="#0b3b5c"/>
<circle cx="521.5" cy="737.5" r="2" fill="#0b3b5c"/><circle cx="580" cy="771" r="2" fill="#0b3b5c"/><circle cx="585" cy="731.5" r="2" fill="#0b3b5c"/>
<polygon points="531,586 556.5,573.5 598.5,597 573,611" fill="#0b4268" />
<polygon points="531,586 573,611 591.5,629 554,607" fill="#0b3b5c" />
<polygon points="573,611 598.5,597 591.5,629" fill="#0a3452" />
<g stroke="#eef0fb" stroke-width="2.4" stroke-linecap="round" fill="none"><path d="M966,648 L941,697 L946,739 M969.5,646 L969.5,697 M972,648 L986,692 M941,697 L969.5,694 L986,690 M946,739 L969.5,697 M941,697 L968,660 M969.5,697 L987,722"/></g>
<rect x="966" y="688" width="7" height="14" rx="2" fill="#0b3b5c"/>
<circle cx="940.8" cy="697.5" r="2" fill="#0b3b5c"/><circle cx="945.7" cy="739.5" r="2" fill="#0b3b5c"/>
<polygon points="922.4,592 937,602 949.6,596 935,587" fill="#e4e7f5" />
<polygon points="917.5,569 936,582.5 972,561 970,573 949,597 938,600 926,589" fill="#d9dbec" />
<polygon points="931,586 940,581 949,594 941,599" fill="#0b3b5c" />
<polygon points="917.5,569 953.5,548.5 972,561 936,582.5" fill="#f2f2fa" />
<path d="M954.4,584 L962,578 L979.7,580 L980,598 L968,606 L954.4,600 Z" fill="#0b3b5c"/>
<path d="M962.2,568 L970,564 L981.7,567 L981.7,580.6 L972,582 L962.2,579 Z" fill="#0d4770"/>
<rect x="963" y="603" width="7" height="14" fill="#0b3b5c"/>
<path d="M979,644 L1013.7,640 L1013.5,690 L1009,727 L998,728 L998,684 L992,731 L981,731 Z" fill="#00395c"/>
<path d="M978,602 Q979,590 990,589 Q1002,592 1005,606 L1014.7,642 Q998,654 979,648 L979,625 Z" fill="#5cc5ee"/>
<path d="M964,621 L976,606 L981,612 L971,626 Z" fill="#f9bda2"/>
<ellipse cx="982" cy="581.5" rx="4.6" ry="7" fill="#f9bda2"/>
<path d="M978.5,574 Q982,563 993,565 Q1002,569 1001,582 L1001.5,598 Q1000,607 994,606 L991,590 Q986,586 985,577 Q981,576 978.5,574 Z" fill="#0b3b5c"/>
<path d="M977,730 l9,-3 l3,4 l-10,3.5 Z M996,727 l8,-2.5 l3,4 l-9,3 Z" fill="#d6c720"/>
<rect x="1237.5" y="318" width="7.5" height="268" fill="#c8c5e8"/><rect x="1239.3" y="320" width="3" height="266" fill="#e4e2f6"/>
<ellipse cx="1241" cy="586" rx="9" ry="4" fill="#7cb4cf" opacity="0.6"/><rect x="1237.5" y="560" width="7.5" height="27" fill="#c8c5e8"/>
<line x1="355" y1="379.5" x2="744" y2="603" stroke="#c9c6e8" stroke-width="5.6" stroke-linecap="round"/><line x1="355" y1="378.8" x2="744" y2="602.3" stroke="#ecebf9" stroke-width="2.8" stroke-linecap="round"/>
<line x1="744" y1="604" x2="1242" y2="320.5" stroke="#c9c6e8" stroke-width="5.4" stroke-linecap="round"/><line x1="744" y1="603.3" x2="1242" y2="319.8" stroke="#ecebf9" stroke-width="2.7" stroke-linecap="round"/>
<ellipse cx="744" cy="874" rx="10" ry="4.5" fill="#6fb2c6" opacity="0.8"/>
<rect x="740" y="601" width="7.6" height="274" fill="#cbc8ea"/><rect x="741.5" y="603" width="3.2" height="271" fill="#e6e4f7"/>
<line x1="792.5" y1="578.1" x2="792.5" y2="604.7" stroke="#e9e8f7" stroke-width="1.6"/>
<ellipse cx="769.5" cy="623.7" rx="13.4" ry="17" transform="rotate(-22 769.5 623.7)" fill="#0d5a85"/>
<polygon points="775.9,639.5 791.8,625.4 781.2,599.1 763.1,608" fill="#0d5a85" />
<g stroke="#2279a8" stroke-width="1.5" fill="none" opacity="0.85">
<line x1="778.7" y1="636.2" x2="786.7" y2="630.8"/>
<line x1="774.4" y1="637.8" x2="782.4" y2="632.4"/>
<line x1="769.5" y1="637.3" x2="777.5" y2="631.9"/>
<line x1="764.9" y1="634.6" x2="772.9" y2="629.2"/>
<line x1="761.2" y1="630.2" x2="769.2" y2="624.8"/>
<line x1="758.8" y1="624.7" x2="766.8" y2="619.3"/>
</g>
<ellipse cx="769.5" cy="623.7" rx="13.4" ry="17" transform="rotate(-22 769.5 623.7)" fill="none" stroke="#0a4166" stroke-width="1.2"/>
<ellipse cx="786.5" cy="612.2" rx="12.2" ry="14.2" transform="rotate(-22 786.5 612.2)" fill="#0e6190"/>
<ellipse cx="787.7" cy="612.5" rx="10" ry="12.2" transform="rotate(-22 786.5 612.2)" fill="#0a466c"/>
<line x1="770.5" y1="591.8" x2="770.5" y2="622.7" stroke="#f3f3fb" stroke-width="3" stroke-linecap="round"/>
<line x1="877.5" y1="529.3" x2="877.5" y2="555.9" stroke="#e9e8f7" stroke-width="1.6"/>
<ellipse cx="854.5" cy="574.9" rx="13.4" ry="17" transform="rotate(-22 854.5 574.9)" fill="#0d5a85"/>
<polygon points="860.9,590.6 876.8,576.6 866.2,550.2 848.1,559.1" fill="#0d5a85" />
<g stroke="#2279a8" stroke-width="1.5" fill="none" opacity="0.85">
<line x1="863.7" y1="587.3" x2="871.7" y2="581.9"/>
<line x1="859.4" y1="589" x2="867.4" y2="583.6"/>
<line x1="854.5" y1="588.4" x2="862.5" y2="583"/>
<line x1="849.9" y1="585.8" x2="857.9" y2="580.4"/>
<line x1="846.2" y1="581.4" x2="854.2" y2="576"/>
<line x1="843.8" y1="575.9" x2="851.8" y2="570.5"/>
</g>
<ellipse cx="854.5" cy="574.9" rx="13.4" ry="17" transform="rotate(-22 854.5 574.9)" fill="none" stroke="#0a4166" stroke-width="1.2"/>
<ellipse cx="871.5" cy="563.4" rx="12.2" ry="14.2" transform="rotate(-22 871.5 563.4)" fill="#0e6190"/>
<ellipse cx="872.7" cy="563.7" rx="10" ry="12.2" transform="rotate(-22 871.5 563.4)" fill="#0a466c"/>
<line x1="855.5" y1="542.9" x2="855.5" y2="573.9" stroke="#f3f3fb" stroke-width="3" stroke-linecap="round"/>
<line x1="963.8" y1="479.7" x2="963.8" y2="506.3" stroke="#e9e8f7" stroke-width="1.6"/>
<ellipse cx="940.8" cy="525.3" rx="13.4" ry="17" transform="rotate(-22 940.8 525.3)" fill="#0d5a85"/>
<polygon points="947.1,541.1 963.1,527 952.4,500.6 934.4,509.5" fill="#0d5a85" />
<g stroke="#2279a8" stroke-width="1.5" fill="none" opacity="0.85">
<line x1="950" y1="537.8" x2="958" y2="532.4"/>
<line x1="945.6" y1="539.4" x2="953.6" y2="534"/>
<line x1="940.8" y1="538.9" x2="948.8" y2="533.5"/>
<line x1="936.1" y1="536.2" x2="944.1" y2="530.8"/>
<line x1="932.4" y1="531.8" x2="940.4" y2="526.4"/>
<line x1="930.1" y1="526.3" x2="938.1" y2="520.9"/>
</g>
<ellipse cx="940.8" cy="525.3" rx="13.4" ry="17" transform="rotate(-22 940.8 525.3)" fill="none" stroke="#0a4166" stroke-width="1.2"/>
<ellipse cx="957.8" cy="513.8" rx="12.2" ry="14.2" transform="rotate(-22 957.8 513.8)" fill="#0e6190"/>
<ellipse cx="959" cy="514.1" rx="10" ry="12.2" transform="rotate(-22 957.8 513.8)" fill="#0a466c"/>
<line x1="941.8" y1="493.3" x2="941.8" y2="524.3" stroke="#f3f3fb" stroke-width="3" stroke-linecap="round"/>
<line x1="1048.8" y1="430.8" x2="1048.8" y2="457.5" stroke="#e9e8f7" stroke-width="1.6"/>
<ellipse cx="1025.8" cy="476.5" rx="13.4" ry="17" transform="rotate(-22 1025.8 476.5)" fill="#0d5a85"/>
<polygon points="1032.1,492.2 1048.1,478.1 1037.4,451.8 1019.4,460.7" fill="#0d5a85" />
<g stroke="#2279a8" stroke-width="1.5" fill="none" opacity="0.85">
<line x1="1035" y1="488.9" x2="1043" y2="483.5"/>
<line x1="1030.6" y1="490.5" x2="1038.6" y2="485.1"/>
<line x1="1025.8" y1="490" x2="1033.8" y2="484.6"/>
<line x1="1021.1" y1="487.3" x2="1029.1" y2="481.9"/>
<line x1="1017.4" y1="482.9" x2="1025.4" y2="477.5"/>
<line x1="1015.1" y1="477.4" x2="1023.1" y2="472"/>
</g>
<ellipse cx="1025.8" cy="476.5" rx="13.4" ry="17" transform="rotate(-22 1025.8 476.5)" fill="none" stroke="#0a4166" stroke-width="1.2"/>
<ellipse cx="1042.8" cy="465" rx="12.2" ry="14.2" transform="rotate(-22 1042.8 465)" fill="#0e6190"/>
<ellipse cx="1044" cy="465.3" rx="10" ry="12.2" transform="rotate(-22 1042.8 465)" fill="#0a466c"/>
<line x1="1026.8" y1="444.5" x2="1026.8" y2="475.5" stroke="#f3f3fb" stroke-width="3" stroke-linecap="round"/>
<line x1="1142.5" y1="376.9" x2="1142.5" y2="403.6" stroke="#e9e8f7" stroke-width="1.6"/>
<ellipse cx="1119.5" cy="422.6" rx="13.4" ry="17" transform="rotate(-22 1119.5 422.6)" fill="#0d5a85"/>
<polygon points="1125.9,438.3 1141.8,424.2 1131.2,397.9 1113.1,406.8" fill="#0d5a85" />
<g stroke="#2279a8" stroke-width="1.5" fill="none" opacity="0.85">
<line x1="1128.7" y1="435" x2="1136.7" y2="429.6"/>
<line x1="1124.4" y1="436.7" x2="1132.4" y2="431.3"/>
<line x1="1119.5" y1="436.1" x2="1127.5" y2="430.7"/>
<line x1="1114.9" y1="433.4" x2="1122.9" y2="428"/>
<line x1="1111.2" y1="429" x2="1119.2" y2="423.6"/>
<line x1="1108.8" y1="423.6" x2="1116.8" y2="418.2"/>
</g>
<ellipse cx="1119.5" cy="422.6" rx="13.4" ry="17" transform="rotate(-22 1119.5 422.6)" fill="none" stroke="#0a4166" stroke-width="1.2"/>
<ellipse cx="1136.5" cy="411.1" rx="12.2" ry="14.2" transform="rotate(-22 1136.5 411.1)" fill="#0e6190"/>
<ellipse cx="1137.7" cy="411.4" rx="10" ry="12.2" transform="rotate(-22 1136.5 411.1)" fill="#0a466c"/>
<line x1="1120.5" y1="390.6" x2="1120.5" y2="421.6" stroke="#f3f3fb" stroke-width="3" stroke-linecap="round"/>
<line x1="1230" y1="326.6" x2="1230" y2="353.3" stroke="#e9e8f7" stroke-width="1.6"/>
<ellipse cx="1207" cy="372.3" rx="13.4" ry="17" transform="rotate(-22 1207 372.3)" fill="#0d5a85"/>
<polygon points="1213.4,388 1229.3,373.9 1218.7,347.6 1200.6,356.5" fill="#0d5a85" />
<g stroke="#2279a8" stroke-width="1.5" fill="none" opacity="0.85">
<line x1="1216.2" y1="384.7" x2="1224.2" y2="379.3"/>
<line x1="1211.9" y1="386.4" x2="1219.9" y2="381"/>
<line x1="1207" y1="385.8" x2="1215" y2="380.4"/>
<line x1="1202.4" y1="383.1" x2="1210.4" y2="377.7"/>
<line x1="1198.7" y1="378.7" x2="1206.7" y2="373.3"/>
<line x1="1196.3" y1="373.3" x2="1204.3" y2="367.9"/>
</g>
<ellipse cx="1207" cy="372.3" rx="13.4" ry="17" transform="rotate(-22 1207 372.3)" fill="none" stroke="#0a4166" stroke-width="1.2"/>
<ellipse cx="1224" cy="360.8" rx="12.2" ry="14.2" transform="rotate(-22 1224 360.8)" fill="#0e6190"/>
<ellipse cx="1225.2" cy="361.1" rx="10" ry="12.2" transform="rotate(-22 1224 360.8)" fill="#0a466c"/>
<line x1="1208" y1="340.3" x2="1208" y2="371.3" stroke="#f3f3fb" stroke-width="3" stroke-linecap="round"/>
</g>
<g id="partition">
<polygon points="880,699.2 1275,471.2 1275,624.7 880,852.7" fill="#bcc8fa" opacity="0.27"/>
<polygon points="858,687 867,692.2 867,963.2 858,958" fill="#0b5a94" />
<polygon points="858,687 1389,380.5 1398.5,385.7 867,692.2" fill="#1a84c4" />
<polygon points="867,692.2 1398.5,385.4 1398.5,399.9 867,706.7" fill="#31a3d9" />
<polygon points="867,706.7 880,699.2 880,955.7 867,963.2" fill="#3d9fdc" />
<polygon points="880,852.7 1275,624.7 1275,727.7 880,955.7" fill="#3fa6de" />
<polygon points="1274,471.8 1283.5,463.3 1283.5,622.8 1274,625.3" fill="#2878b5" />
<polygon points="1283.5,463.3 1398.5,396.9 1398.5,656.4 1274,728.3 1274,625.3 1283.5,622.8" fill="#30a6d4" />
<ellipse cx="1342.8" cy="460.2" rx="14.6" ry="20.4" transform="rotate(12 1342.8 460.2)" fill="#0b3f63"/>
<ellipse cx="1344.4" cy="460" rx="12.2" ry="18" transform="rotate(12 1344.4 460)" fill="#b7e5f8"/>
<path d="M1346.2,446 L1344.2,462 L1352,459.5" fill="none" stroke="#0b3355" stroke-width="1.1"/>
<polygon points="1308.4,509.3 1380,469.7 1380,669.5 1308.4,708" fill="#3a9bd8" />
<polygon points="1312.5,512 1380,474.5 1380,669.5 1312.5,705.5" fill="#2e8fcc" />
<polygon points="1315.8,512.8 1376.4,480.3 1376.4,670.2 1315.8,703.4" fill="#0b5a8c" />
<clipPath id="trans"><polygon points="1320.7,514.3 1369,488.3 1369,563.8 1320.7,538"/></clipPath>
<polygon points="1320.7,514.3 1369,488.3 1369,563.8 1320.7,538" fill="#a9b4ea" />
<g clip-path="url(#trans)" stroke="#0b5a8c" stroke-width="5.2"><line x1="1328" y1="508" x2="1372" y2="531"/><line x1="1316" y1="525" x2="1372" y2="555"/></g>
<polygon points="1320.7,610.8 1343,597.2 1343,686 1320.7,699" fill="#0a3f65" />
<polygon points="1350.4,592.2 1372.7,578.6 1372.7,666.5 1350.4,678.9" fill="#0a3f65" />
</g>
<g id="ctrl">
<defs><linearGradient id="deskfront" x1="0" y1="0" x2="1" y2="0"><stop offset="0" stop-color="#3fb0ea"/><stop offset="0.7" stop-color="#52bdee"/><stop offset="1" stop-color="#86d2ee"/></linearGradient></defs>
<path d="M1128,540 C1120,570 1130,600 1160,625 C1185,645 1198,655 1203,664" fill="none" stroke="#0d2a3f" stroke-width="1"/>
<path d="M925,672 C936,700 936,730 935,764" fill="none" stroke="#0d2a3f" stroke-width="1"/>
<polygon points="965,930 1306,728 1306,795 965,997" fill="url(#deskfront)" />
<polygon points="900,890 966,926 966,997.5 900,960" fill="#0c3f63" />
<polygon points="962,924 966,926 966,997.5 962,995" fill="#082f4d" />
<polygon points="890,880 965,924 1306,722.5 1306,729 965,931 890,887" fill="#9edff9" />
<polygon points="890,880 1232.5,678.8 1306,722.5 965,924" fill="#6dcff6" />
<path d="M1098.8,725.5 Q1098.8,722.5 1101.8,720.9 L1147,698.6 Q1150,697 1150,700 L1150,737.5 Q1150,740.5 1147,742.1 L1101.8,764.4 Q1098.8,766 1098.8,763 Z" fill="#0b3355"/>
<polygon points="1101.2,724.5 1148,701 1148,736 1101.2,760" fill="#0b4268" />
<line x1="1121.4" y1="751.9" x2="1127.4" y2="748.6" stroke="#cfeaf9" stroke-width="1.4"/>
<polygon points="1113,764 1128,756 1142,763 1127,771.5" fill="#c3e8f9" />
<path d="M1165,686.8 Q1165,683.8 1168,682.1 L1214,659.6 Q1217,658 1217,661 L1217,698 Q1217,701 1214,702.6 L1168,725.1 Q1165,726.8 1165,723.8 Z" fill="#0b3355"/>
<polygon points="1167.5,685.8 1215,662 1215,696.5 1167.5,720.8" fill="#0b4268" />
<line x1="1188" y1="712.5" x2="1194" y2="709.3" stroke="#cfeaf9" stroke-width="1.4"/>
<polygon points="1181,725 1196,717 1209,724 1194,732" fill="#c3e8f9" />
<polygon points="1223,727 1240,718 1262,734 1247,743" fill="#eef4fd" />
<polygon points="1232.8,724.3 1248.7,717.9 1275.8,732.3 1258.3,741.3" fill="#c7e9fa" />
<polygon points="1205.2,744.5 1224.3,733.9 1234.9,739.2 1215.8,750.8" fill="#b5e3f8" />
<polygon points="1086,788 1110,775 1131,787 1107,801" fill="#eef4fd" />
<polygon points="1092,783 1113,772 1131,782 1110,794" fill="#c7e9fa" />
<polygon points="1130,793 1158,778 1168,784 1140,800" fill="#b5e3f8" />
<path d="M1223.2,699.9 L1238,691.2 Q1240.2,690 1242.5,691.5 L1252,699.8 Q1254.5,702 1251.5,703.6 L1240,711.2 Q1238,712.4 1236,711 L1224,703 Q1221.5,701 1223.2,699.9 Z" fill="#0b3b5c"/>
<path d="M1242,691 Q1250,692 1256,699 Q1263,707 1266,709 Q1269,705 1263,700 Q1256,694 1252,696" fill="none" stroke="#0b3355" stroke-width="1.3"/>
<g fill="#4fb4e4"><circle cx="1233.5" cy="699.5" r="0.95"/><circle cx="1236.5" cy="701.5" r="0.95"/><circle cx="1239.5" cy="703.5" r="0.95"/><circle cx="1236.9" cy="697.6" r="0.95"/><circle cx="1239.9" cy="699.6" r="0.95"/><circle cx="1242.9" cy="701.6" r="0.95"/><circle cx="1240.3" cy="695.7" r="0.95"/><circle cx="1243.3" cy="697.7" r="0.95"/><circle cx="1246.3" cy="699.7" r="0.95"/></g>
<path d="M1228,696.5 L1236,692" stroke="#cfe9f8" stroke-width="1.2"/>
<rect x="1221.5" y="704" width="8" height="15" rx="2.5" fill="#0b3b5c"/><rect x="1223.2" y="700" width="4.6" height="5" rx="1" fill="#0b3b5c"/><rect x="1221.5" y="709" width="8" height="6" fill="#cbe9f8"/>
<rect x="1167.5" y="756" width="8" height="15" rx="2.5" fill="#0b3b5c"/><rect x="1169.2" y="752" width="4.6" height="5" rx="1" fill="#0b3b5c"/><rect x="1167.5" y="761" width="8" height="6" fill="#cbe9f8"/>
<polygon points="932.5,886 1085,801 1122.5,819 972.5,907.5" fill="#0d4268" />
<polygon points="1072,811 1090,801.5 1122,817 1104,827" fill="#082c47" />
<polygon points="998,853 1020,841 1056,858 1034,871" fill="#082c47" />
<polygon points="940,884 958,874 990,890 972,900" fill="#0a3655" />
<g stroke="#e3f3fc" stroke-width="1.7">
<line x1="1064" y1="815" x2="1067.6" y2="813"/>
<line x1="1067.1" y1="816.7" x2="1070.7" y2="814.7"/>
<line x1="1070.2" y1="818.5" x2="1073.8" y2="816.5"/>
<line x1="1073.3" y1="820.2" x2="1076.9" y2="818.2"/>
<line x1="1076.4" y1="821.9" x2="1080" y2="819.9"/>
<line x1="1079.5" y1="823.6" x2="1083.1" y2="821.6"/>
<line x1="1082.5" y1="825.4" x2="1086.1" y2="823.4"/>
<line x1="1085.6" y1="827.1" x2="1089.2" y2="825.1"/>
<line x1="1088.7" y1="828.8" x2="1092.3" y2="826.8"/>
<line x1="1091.8" y1="830.5" x2="1095.4" y2="828.5"/>
<line x1="1094.9" y1="832.3" x2="1098.5" y2="830.3"/>
<line x1="1098" y1="834" x2="1101.6" y2="832"/>
<line x1="1048" y1="824" x2="1051.6" y2="822"/>
<line x1="1051.4" y1="825.9" x2="1055" y2="823.9"/>
<line x1="1054.8" y1="827.8" x2="1058.4" y2="825.8"/>
<line x1="1058.2" y1="829.7" x2="1061.8" y2="827.7"/>
<line x1="1061.6" y1="831.6" x2="1065.2" y2="829.6"/>
<line x1="1065" y1="833.5" x2="1068.6" y2="831.5"/>
<line x1="1068.4" y1="835.4" x2="1072" y2="833.4"/>
<line x1="1071.8" y1="837.3" x2="1075.4" y2="835.3"/>
<line x1="1075.2" y1="839.2" x2="1078.8" y2="837.2"/>
<line x1="1078.6" y1="841.1" x2="1082.2" y2="839.1"/>
<line x1="1082" y1="843" x2="1085.6" y2="841"/>
<line x1="1030" y1="834" x2="1033.6" y2="832"/>
<line x1="1033.3" y1="835.8" x2="1036.9" y2="833.8"/>
<line x1="1036.5" y1="837.6" x2="1040.1" y2="835.6"/>
<line x1="1039.8" y1="839.5" x2="1043.4" y2="837.5"/>
<line x1="1043.1" y1="841.3" x2="1046.7" y2="839.3"/>
<line x1="1046.4" y1="843.1" x2="1050" y2="841.1"/>
<line x1="1049.6" y1="844.9" x2="1053.2" y2="842.9"/>
<line x1="1052.9" y1="846.7" x2="1056.5" y2="844.7"/>
<line x1="1056.2" y1="848.5" x2="1059.8" y2="846.5"/>
<line x1="1059.5" y1="850.4" x2="1063.1" y2="848.4"/>
<line x1="1062.7" y1="852.2" x2="1066.3" y2="850.2"/>
<line x1="1066" y1="854" x2="1069.6" y2="852"/>
<line x1="990" y1="857" x2="993.6" y2="855"/>
<line x1="993.4" y1="858.8" x2="997" y2="856.8"/>
<line x1="996.8" y1="860.6" x2="1000.4" y2="858.6"/>
<line x1="1000.2" y1="862.4" x2="1003.8" y2="860.4"/>
<line x1="1003.6" y1="864.2" x2="1007.2" y2="862.2"/>
<line x1="1007" y1="866" x2="1010.6" y2="864"/>
<line x1="1010.4" y1="867.8" x2="1014" y2="865.8"/>
<line x1="1013.8" y1="869.6" x2="1017.4" y2="867.6"/>
<line x1="1017.2" y1="871.4" x2="1020.8" y2="869.4"/>
<line x1="1020.6" y1="873.2" x2="1024.2" y2="871.2"/>
<line x1="1024" y1="875" x2="1027.6" y2="873"/>
<line x1="962" y1="873" x2="965.6" y2="871"/>
<line x1="965.4" y1="874.8" x2="969" y2="872.8"/>
<line x1="968.8" y1="876.6" x2="972.4" y2="874.6"/>
<line x1="972.2" y1="878.4" x2="975.8" y2="876.4"/>
<line x1="975.6" y1="880.2" x2="979.2" y2="878.2"/>
<line x1="979" y1="882" x2="982.6" y2="880"/>
<line x1="982.4" y1="883.8" x2="986" y2="881.8"/>
<line x1="985.8" y1="885.6" x2="989.4" y2="883.6"/>
<line x1="989.2" y1="887.4" x2="992.8" y2="885.4"/>
<line x1="992.6" y1="889.2" x2="996.2" y2="887.2"/>
<line x1="996" y1="891" x2="999.6" y2="889"/>
<line x1="1010" y1="846" x2="1013.6" y2="844"/>
<line x1="1013.3" y1="847.8" x2="1016.9" y2="845.8"/>
<line x1="1016.7" y1="849.7" x2="1020.3" y2="847.7"/>
<line x1="1020" y1="851.5" x2="1023.6" y2="849.5"/>
<line x1="1023.3" y1="853.3" x2="1026.9" y2="851.3"/>
<line x1="1026.7" y1="855.2" x2="1030.3" y2="853.2"/>
<line x1="1030" y1="857" x2="1033.6" y2="855"/>
<line x1="946" y1="882" x2="949.6" y2="880"/>
<line x1="949.7" y1="884" x2="953.3" y2="882"/>
<line x1="953.4" y1="886" x2="957" y2="884"/>
<line x1="957.1" y1="888" x2="960.7" y2="886"/>
<line x1="960.9" y1="890" x2="964.5" y2="888"/>
<line x1="964.6" y1="892" x2="968.2" y2="890"/>
<line x1="968.3" y1="894" x2="971.9" y2="892"/>
<line x1="972" y1="896" x2="975.6" y2="894"/>
</g>
<g fill="#cfe9f8">
<circle cx="1060" cy="829" r="1.3"/>
<circle cx="1065.3" cy="832" r="1.3"/>
<circle cx="1070.7" cy="835" r="1.3"/>
<circle cx="1076" cy="838" r="1.3"/>
<circle cx="984" cy="870" r="1.3"/>
<circle cx="989.3" cy="873" r="1.3"/>
<circle cx="994.7" cy="876" r="1.3"/>
<circle cx="1000" cy="879" r="1.3"/>
</g>
<polygon points="1053,776 1068,768 1068,790 1053,798" fill="#0b3355" />
<polygon points="1040,803 1068,788 1083,796 1055,811" fill="#0b3b5c" />
<polygon points="1040,803 1055,811 1055,814 1040,806" fill="#082c47" />
<polygon points="926,858 941,850 941,872 926,880" fill="#0b3355" />
<polygon points="915,881 941,867 956,875 930,889" fill="#0b3b5c" />
<polygon points="915,881 930,889 930,892 915,884" fill="#082c47" />
<polygon points="915,775 1082.5,681.2 1082.5,773.2 915,867" fill="#0b3355" />
<polygon points="918.4,776.3 972.8,745.9 972.8,788.6 918.4,819.1" fill="#0b4a78" />
<polygon points="972.8,745.9 1028.1,714.9 1028.1,757.7 972.8,788.6" fill="#8edcf8" />
<polygon points="1028.1,714.9 1080,685.8 1080,728.6 1028.1,757.7" fill="#0b4a78" />
<polygon points="918.4,819.1 972.8,788.6 972.8,831.4 918.4,861.9" fill="#0a3a5f" />
<polygon points="972.8,788.6 1028.1,757.7 1028.1,800.5 972.8,831.4" fill="#1a8dd0" />
<polygon points="1028.1,757.7 1080,728.6 1080,771.4 1028.1,800.5" fill="#8edcf8" />
<line x1="918.4" y1="819.1" x2="1080" y2="728.6" stroke="#bfe8fa" stroke-width="1.2"/>
<ellipse cx="1292" cy="861.4" rx="36" ry="16.5" fill="#2fa8e6" opacity="0.9"/>
<g stroke="#0b3b5c" stroke-width="4.6" stroke-linecap="round">
<line x1="1288" y1="850.4" x2="1264.7" y2="841.8"/>
<line x1="1288" y1="850.4" x2="1312" y2="839"/>
<line x1="1288" y1="850.4" x2="1268.3" y2="867.3"/>
<line x1="1288" y1="850.4" x2="1310.7" y2="866"/>
</g>
<ellipse cx="1264.7" cy="844.8" rx="3.6" ry="4.4" fill="#0b3b5c"/>
<ellipse cx="1312" cy="842" rx="3.6" ry="4.4" fill="#0b3b5c"/>
<ellipse cx="1268.3" cy="870.3" rx="3.6" ry="4.4" fill="#0b3b5c"/>
<ellipse cx="1310.7" cy="869" rx="3.6" ry="4.4" fill="#0b3b5c"/>
<rect x="1285.2" y="819.4" width="6.4" height="32" fill="#0b3b5c"/>
<path d="M1321,801.4 C1324,819.4 1314,829.4 1294,830.4" fill="none" stroke="#0b3b5c" stroke-width="5.2" stroke-linecap="round"/>
<ellipse cx="1287.2" cy="813" rx="20.8" ry="12.4" fill="#5bc0ea"/>
<ellipse cx="1288" cy="811.4" rx="20.5" ry="12.2" fill="#0b3b5c"/>
<path d="M1300.8,803.4 L1300.8,773.4 Q1301.5,762.4 1312,761.4 L1326,760.9 Q1333.3,762.4 1333.3,770.4 L1333.3,805.4 L1310,815.4 Z" fill="#0b3b5c"/>
<path d="M1298,700 L1327,698 L1326,740 L1322,786 L1314,788 L1313,740 L1309,786 L1300,786 Z" fill="#0b3355"/>
<path d="M1298,662 L1303,668 L1288,695 L1272,706 L1266,704 L1268,700 L1282,694 Z" fill="#f9bda2"/>
<path d="M1327,668 L1331,672 L1330,700 L1326,706 Z" fill="#f9bda2"/>
<path d="M1297,664 Q1298,652 1308,650 L1322,650 Q1330,654 1331,668 L1328,702 L1298,704 L1300,676 Z" fill="#0d4a78"/>
<ellipse cx="1306" cy="630" rx="5" ry="7" fill="#f9bda2"/>
<path d="M1303,622 Q1306,613 1316,615 Q1324,619 1324,632 L1327,660 Q1326,672 1318,672 L1312,668 L1310,640 Q1309,630 1303,626 Z" fill="#0b3b5c"/>
<path d="M1298,786 l10,0 l0,4 l-11,0 Z" fill="#f0c39e"/>
<ellipse cx="1200.3" cy="892.3" rx="36" ry="16.5" fill="#2fa8e6" opacity="0.9"/>
<g stroke="#0b3b5c" stroke-width="4.6" stroke-linecap="round">
<line x1="1196.3" y1="881.3" x2="1173" y2="872.7"/>
<line x1="1196.3" y1="881.3" x2="1220.3" y2="869.9"/>
<line x1="1196.3" y1="881.3" x2="1176.6" y2="898.2"/>
<line x1="1196.3" y1="881.3" x2="1219" y2="896.9"/>
</g>
<ellipse cx="1173" cy="875.7" rx="3.6" ry="4.4" fill="#0b3b5c"/>
<ellipse cx="1220.3" cy="872.9" rx="3.6" ry="4.4" fill="#0b3b5c"/>
<ellipse cx="1176.6" cy="901.2" rx="3.6" ry="4.4" fill="#0b3b5c"/>
<ellipse cx="1219" cy="899.9" rx="3.6" ry="4.4" fill="#0b3b5c"/>
<rect x="1193.5" y="850.3" width="6.4" height="32" fill="#0b3b5c"/>
<path d="M1229.3,832.3 C1232.3,850.3 1222.3,860.3 1202.3,861.3" fill="none" stroke="#0b3b5c" stroke-width="5.2" stroke-linecap="round"/>
<ellipse cx="1195.5" cy="843.9" rx="20.8" ry="12.4" fill="#5bc0ea"/>
<ellipse cx="1196.3" cy="842.3" rx="20.5" ry="12.2" fill="#0b3b5c"/>
<path d="M1209.1,834.3 L1209.1,804.3 Q1209.8,793.3 1220.3,792.3 L1234.3,791.8 Q1241.6,793.3 1241.6,801.3 L1241.6,836.3 L1218.3,846.3 Z" fill="#0b3b5c"/>
<path d="M1155,832 Q1156,817 1178,812 L1200,807 L1214,836 Q1213,852 1190,855 Q1158,857 1155,838 Z" fill="#0b3355"/>
<path d="M1158.6,848 L1170.5,850 L1168,873 L1159,872 Z M1174,852 L1184,852 L1182,866 L1174,866 Z" fill="#f9bda2"/>
<path d="M1147.6,867 Q1158,869 1168.6,873.5 L1168,878 Q1154,878.5 1147.6,872 Z M1170,863 Q1178,864.5 1184.5,867.5 L1183,870.5 Q1174,870.5 1170,866.5 Z" fill="#0b3355"/>
<path d="M1192,786 Q1198,781 1205,785 L1212,800 L1210.6,833 L1186,826 Q1184,806 1192,786 Z" fill="#8fd4f4"/>
<path d="M1190,787 L1196.5,793 L1185,812 L1162,806.5 L1152,801.5 L1153.5,797 L1166,799 L1178,801 Z" fill="#f9bda2"/>
<ellipse cx="1194.8" cy="764" rx="3.8" ry="6.5" fill="#f9bda2"/>
<path d="M1191.5,760 Q1190.5,748 1202.2,746.8 Q1214,748 1214.8,766 L1215.2,790 Q1214.5,802 1209,800.5 Q1202,799 1200,790 L1198,771 Q1197,761 1191.5,760 Z" fill="#0b3b5c"/>
<ellipse cx="1066" cy="968.9" rx="36" ry="16.5" fill="#2fa8e6" opacity="0.9"/>
<g stroke="#0b3b5c" stroke-width="4.6" stroke-linecap="round">
<line x1="1062" y1="957.9" x2="1038.7" y2="949.3"/>
<line x1="1062" y1="957.9" x2="1086" y2="946.5"/>
<line x1="1062" y1="957.9" x2="1042.3" y2="974.8"/>
<line x1="1062" y1="957.9" x2="1084.7" y2="973.5"/>
</g>
<ellipse cx="1038.7" cy="952.3" rx="3.6" ry="4.4" fill="#0b3b5c"/>
<ellipse cx="1086" cy="949.5" rx="3.6" ry="4.4" fill="#0b3b5c"/>
<ellipse cx="1042.3" cy="977.8" rx="3.6" ry="4.4" fill="#0b3b5c"/>
<ellipse cx="1084.7" cy="976.5" rx="3.6" ry="4.4" fill="#0b3b5c"/>
<rect x="1059.2" y="926.9" width="6.4" height="32" fill="#0b3b5c"/>
<path d="M1095,908.9 C1098,926.9 1088,936.9 1068,937.9" fill="none" stroke="#0b3b5c" stroke-width="5.2" stroke-linecap="round"/>
<ellipse cx="1061.2" cy="920.5" rx="20.8" ry="12.4" fill="#5bc0ea"/>
<ellipse cx="1062" cy="918.9" rx="20.5" ry="12.2" fill="#0b3b5c"/>
<path d="M1074.8,910.9 L1074.8,880.9 Q1075.5,869.9 1086,868.9 L1100,868.4 Q1107.3,869.9 1107.3,877.9 L1107.3,912.9 L1084,922.9 Z" fill="#0b3b5c"/>
<path d="M1025,902 Q1032,896 1048,899 L1074,912 L1070,924 L1042,921 L1036,946 L1021.5,944 Z" fill="#5a3a30"/>
<path d="M1010,942 Q1016,938.5 1024,944 L1035,948 L1033,955 Q1018,956 1010.5,948 Z" fill="#0b3355"/>
<path d="M1050.5,862 Q1056,851 1068,852 Q1084,856 1087,874 L1085,913 Q1070,919 1055,911 L1051,884 Z" fill="#c3d5f4"/>
<path d="M1066,856 Q1082,858 1086,874 L1085,913 Q1076,916 1068,915 Q1072,890 1066,856 Z" fill="#b4e0f6"/>
<path d="M1051.5,866 L1056,877 L1040,886 L1022,881.5 L1016.5,877.5 L1018,873 L1028,875 L1040,873.5 Z" fill="#f9bda2"/>
<path d="M1058,843 L1066,843 L1068,855 L1060,853 Z" fill="#f9bda2"/>
<ellipse cx="1061" cy="841" rx="4.6" ry="7.5" fill="#f9bda2"/>
<path d="M1056.5,836 Q1058,826 1069,827 Q1080,830 1079,843 Q1078,850 1072,850.5 L1067,848 Q1066.5,840 1062,838 Q1058,838 1056.5,836 Z" fill="#0b3b5c"/>
</g>
<g id="labels">
<path d="M402.6,169.9 C408,169.7 423.9,168.4 435.1,168.5 C446.3,168.6 459.1,169.8 469.8,170.6 C480.5,171.4 489.3,171.1 499.4,173.1 C509.4,175.2 520.9,178.4 530.1,182.8 C539.3,187.2 545.4,191.9 554.3,199.4 C563.2,207 575.5,217.9 583.6,228.2 C591.8,238.4 598.4,250.3 603.3,260.9 C608.2,271.5 610.6,281.2 613.1,291.8 C615.5,302.5 617,315.7 618.1,324.7 C619.2,333.8 619.5,342.5 619.8,346 L620.2,346 C620,342.4 619.9,333.7 618.9,324.7 C617.9,315.6 616.5,302.3 614.1,291.6 C611.8,280.8 609.5,271.1 604.7,260.3 C599.9,249.5 593.4,237.3 585.4,226.8 C577.3,216.3 565.2,205.1 556.3,197.2 C547.4,189.2 541.2,184.1 531.9,179.2 C522.6,174.3 510.9,170.5 500.6,167.9 C490.3,165.2 481.2,164 470.2,163.4 C459.3,162.8 446.2,163.5 434.9,164.5 C423.6,165.5 408,168.8 402.6,169.7 Z" fill="#0d1f2d"/>
<path d="M462,163.4 C480,162.6 497,163.8 510.6,166.3 C498,166.2 488,166.8 478,168.2 Z" fill="#0d1f2d"/>
<path d="M462,170.6 C478,173.5 492,177.5 503.8,182.8 C494,180.4 484,178.2 472,176.4 Z" fill="#0d1f2d"/>
<path d="M1355,167.4 C1350.5,167.2 1337.1,166.4 1327.8,166.6 C1318.5,166.8 1308.2,166.8 1299.3,168.6 C1290.3,170.4 1282.5,174.1 1274.1,177.6 C1265.7,181 1256.8,184.5 1249,189.2 C1241.1,193.9 1233.6,199.4 1226.9,205.8 C1220.2,212.1 1213.7,219.2 1208.9,227.3 C1204.1,235.5 1200.5,245.1 1198,254.7 C1195.6,264.4 1194.8,275.7 1194.3,285 C1193.8,294.2 1194.7,302.2 1195.1,310 C1195.4,317.9 1196.1,328.3 1196.3,332 L1196.7,332 C1196.6,328.3 1196.1,317.8 1195.9,310 C1195.8,302.2 1195,294.2 1195.7,285 C1196.4,275.9 1197.4,264.6 1200,255.3 C1202.5,245.9 1206.3,236.5 1211.1,228.7 C1216,220.8 1222.5,214.2 1229.1,208.2 C1235.8,202.2 1243.2,197.1 1251,192.8 C1258.8,188.5 1267.6,185.3 1275.9,182.4 C1284.2,179.5 1292,177.4 1300.7,175.4 C1309.4,173.4 1319.1,171.9 1328.2,170.6 C1337.2,169.3 1350.5,168.1 1355,167.6 Z" fill="#0d1f2d"/>
<path d="M1306,168.4 C1290,168.4 1274,170 1260,172.5 C1272,172 1284,172.4 1294,173.4 Z" fill="#0d1f2d"/>
<path d="M1306,175.4 C1292,178.5 1280,182.6 1270,187.5 C1278,184.8 1288,182.2 1298,180.2 Z" fill="#0d1f2d"/>
<path d="M552.5,855.6 C560.4,857.4 581.9,863.9 599.8,866.2 C617.7,868.6 641.6,869.9 660.1,869.7 C678.5,869.6 693.6,868.4 710.5,865.6 C727.3,862.7 744.2,859.9 761.1,852.6 C777.9,845.3 795.7,835.4 811.6,821.9 C827.5,808.3 844.1,788.1 856.6,771.2 C869.1,754.3 878.2,737.5 886.4,720.7 C894.7,703.9 901.3,686.3 906.1,670.4 C911,654.4 913.7,636.9 915.7,625.1 C917.8,613.4 917.9,604.2 918.3,600 L917.7,600 C917.1,604.1 916.6,613.3 914.3,624.9 C912,636.5 909,653.9 903.9,669.6 C898.7,685.4 892,702.8 883.6,719.3 C875.2,735.8 865.9,752.3 853.4,768.8 C840.9,785.3 824.2,805 808.4,818.1 C792.7,831.2 775.4,840.5 758.9,847.4 C742.4,854.3 726,857 709.5,859.4 C693,861.9 678.2,861.9 659.9,862.3 C641.7,862.6 618.1,862.9 600.2,861.8 C582.3,860.6 560.5,856.4 552.5,855.4 Z" fill="#0d1f2d"/>
<path d="M650,862.6 C672,860 692,855 707.5,848.8 C696,854.5 682,860 668,864.5 Z" fill="#0d1f2d"/>
<path d="M648,869 C664,870 680,872.5 692.5,875.5 C682,875 668,873.8 656,872.6 Z" fill="#0d1f2d"/>
<path d="M1109.8,825.1 C1111,829.3 1113.9,841.1 1117.1,850.3 C1120.2,859.6 1123.4,868.5 1128.5,880.6 C1133.7,892.8 1140.7,911.4 1148.1,923.2 C1155.6,935 1164.2,943.2 1173.5,951.6 C1182.8,960 1193.1,967.9 1204.1,973.7 C1215.1,979.5 1227,983.4 1239.6,986.5 C1252.3,989.6 1264.9,991.6 1279.9,992.1 C1295,992.7 1313.4,991.7 1330.1,989.8 C1346.8,987.9 1363.8,984.6 1380.1,980.5 C1396.4,976.4 1420.1,967.7 1428.1,965.2 L1427.9,964.8 C1419.9,967.3 1396.2,975.6 1379.9,979.5 C1363.5,983.4 1346.6,986.5 1329.9,988.2 C1313.3,989.9 1295,990.6 1280.1,989.9 C1265.1,989.1 1252.7,986.8 1240.4,983.5 C1228,980.2 1216.6,976.1 1205.9,970.3 C1195.3,964.4 1185.5,956.6 1176.5,948.4 C1167.5,940.1 1159.4,932.3 1151.9,920.8 C1144.3,909.3 1136.9,891.2 1131.5,879.4 C1126,867.5 1122.5,858.7 1118.9,849.7 C1115.4,840.6 1111.6,829.1 1110.2,824.9 Z" fill="#0d1f2d"/>
<path d="M1125,868.6 C1127,872 1131.8,882.5 1136.9,888.9 C1142,895.2 1148.8,901.2 1155.3,906.7 C1161.8,912.3 1172.5,919.6 1175.9,922.1 L1176.1,921.9 C1172.9,919.1 1162.8,911 1156.7,905.3 C1150.5,899.5 1144,893.4 1139.1,887.1 C1134.2,880.8 1129,870.7 1127,867.4 Z" fill="#0d1f2d"/>
<path d="M1129,880.4 C1130.3,884.1 1133.5,895.1 1136.9,902.5 C1140.3,909.8 1144.9,918.1 1149.2,924.5 C1153.6,930.9 1160.6,938.3 1162.9,941.1 L1163.1,940.9 C1161.1,938 1154.8,930.1 1150.8,923.5 C1146.8,916.9 1142.4,908.8 1139.1,901.5 C1135.8,894.2 1132.4,883.3 1131,879.6 Z" fill="#0d1f2d"/>
<path d="M234.5,148.3 L234.5,112.5 C262,108 287,96 303.5,78.8 L307.5,78.8 L307.5,148.3 Z" fill="#4db8ec" stroke="#0f5a96" stroke-width="2.3" stroke-linejoin="round"/><path d="M303.6,80 L303.6,141.5 L306.8,147.6" fill="none" stroke="#0f5a96" stroke-width="1.3"/>
<path d="M1477,151.5 L1517,142.8 Q1524.5,141.5 1526,149 L1529,168 Q1530,176 1522,178 L1483,186.8 Z" fill="#fff" stroke="#0f5a96" stroke-width="2.7" stroke-linejoin="round"/>
<path d="M1456,143.6 Q1454.5,142.5 1454.4,145 L1465.2,199 Q1466.5,203 1470,200.5 L1483,186.8 L1477,151.5 Z" fill="#4db8ec" stroke="#0f5a96" stroke-width="2.7" stroke-linejoin="round"/>
<path d="M1501.2,160 L1501.2,121 Q1501.2,116.8 1505.5,116.8 L1509.3,116.8 Q1513.6,116.8 1513.6,121 L1513.6,160 Z" fill="#4db8ec" stroke="#0f5a96" stroke-width="2.7"/>
<circle cx="1507.2" cy="162.6" r="8.2" fill="#fff" stroke="#0f5a96" stroke-width="2.7"/>
<circle cx="1507.2" cy="162.6" r="3.4" fill="#fff" stroke="#0f5a96" stroke-width="2.7"/>
<path d="M1481.5,154.2 L1491.7,151.8 M1483.3,159.6 L1493.6,157.2" stroke="#0f5a96" stroke-width="2.7" stroke-linecap="round"/>
<path d="M1436.5,154.5 L1452.8,163.2 M1441.2,176.3 L1454.6,173 M1446,198.2 L1457.3,184" stroke="#0f5a96" stroke-width="2.7" stroke-linecap="round"/>
<path d="M433,842 L433,876 M433,846 L414.5,876 M433,846 L451.5,876" fill="none" stroke="#0f5a96" stroke-width="4.4" stroke-linecap="round"/>
<path d="M418.5,801 L418.5,797 Q418.5,788.6 427,788.6 L454,788.6" fill="none" stroke="#0f5a96" stroke-width="4.6" stroke-linecap="round"/>
<rect x="394.2" y="808.5" width="14" height="14" fill="#fff" stroke="#0f5a96" stroke-width="4.2" stroke-linejoin="round"/>
<path d="M461,812 L471,812 L483.5,804.5 L483.5,839.5 L471,831.5 L461,831.5 Z" fill="#fff" stroke="#0f5a96" stroke-width="4.2" stroke-linejoin="round"/>
<line x1="471" y1="812" x2="471" y2="831.5" stroke="#0f5a96" stroke-width="3.6"/>
<rect x="405" y="801.4" width="56" height="40.4" rx="5" fill="#4bbdf2" stroke="#0f5a96" stroke-width="4.8"/>
<rect x="415.8" y="812" width="22.8" height="19.2" fill="#fff" stroke="#0f5a96" stroke-width="4.4" stroke-linejoin="round"/>
<circle cx="448.6" cy="813.8" r="2.4" fill="#0f5a96"/><circle cx="448.6" cy="824.6" r="2.4" fill="#0f5a96"/>
<rect x="1508.2" y="874.6" width="31.2" height="20.4" rx="1.8" fill="#4db8ec" stroke="#0f5a96" stroke-width="2.4"/><rect x="1510.8" y="887.6" width="26" height="5" fill="#fff"/><line x1="1513.2" y1="877.6" x2="1513.2" y2="885.1" stroke="#0f5a96" stroke-width="1.6"/><line x1="1517.5" y1="877.6" x2="1517.5" y2="885.1" stroke="#0f5a96" stroke-width="1.6"/><line x1="1521.8" y1="877.6" x2="1521.8" y2="885.1" stroke="#0f5a96" stroke-width="1.6"/><line x1="1526.1" y1="877.6" x2="1526.1" y2="885.1" stroke="#0f5a96" stroke-width="1.6"/><line x1="1530.4" y1="877.6" x2="1530.4" y2="885.1" stroke="#0f5a96" stroke-width="1.6"/><line x1="1534.7" y1="877.6" x2="1534.7" y2="885.1" stroke="#0f5a96" stroke-width="1.6"/>
<rect x="1544.2" y="874.6" width="31.2" height="20.4" rx="1.8" fill="#4db8ec" stroke="#0f5a96" stroke-width="2.4"/><path d="M1546.8,877.2 h19 v8.5 h-19 Z" fill="#fff"/><path d="M1565.8,877.2 v8.5 l7,7" fill="none" stroke="#0f5a96" stroke-width="1.5"/><line x1="1546.8" y1="885.7" x2="1565.8" y2="885.7" stroke="#0f5a96" stroke-width="1.5"/>
<rect x="1579.3" y="874.6" width="31.2" height="20.4" rx="1.8" fill="#4db8ec" stroke="#0f5a96" stroke-width="2.4"/><rect x="1581.9" y="877.2" width="26" height="8.6" fill="#fff"/><line x1="1581.9" y1="886" x2="1607.9" y2="886" stroke="#0f5a96" stroke-width="1.5"/>
<rect x="1508.2" y="900.2" width="31.2" height="20.4" rx="1.8" fill="#4db8ec" stroke="#0f5a96" stroke-width="2.4"/><path d="M1510.8,902.8 h14 v9 h-14 Z" fill="#fff"/><path d="M1524.8,902.8 v9 l5,6 M1510.8,911.8 h14 M1532.2,902.8 v15" fill="none" stroke="#0f5a96" stroke-width="1.5"/>
<rect x="1579.3" y="900.2" width="31.2" height="20.4" rx="1.8" fill="#4db8ec" stroke="#0f5a96" stroke-width="2.4"/><path d="M1581.9,902.8 h13 v7 l-13,8.5 Z" fill="#fff"/><path d="M1594.9,902.8 v7 l-13,8.5 M1594.9,909.8 h13" fill="none" stroke="#0f5a96" stroke-width="1.5"/>
<path d="M1516.5,927.6 L1603.2,927.6 L1610,946 L1509.6,946 Z" fill="#fff" stroke="#0f5a96" stroke-width="2.4" stroke-linejoin="round"/>
<rect x="1509" y="946" width="101.6" height="10" rx="1.8" fill="#4db8ec" stroke="#0f5a96" stroke-width="2.4"/>
<line x1="1514" y1="951" x2="1605.5" y2="951" stroke="#0f5a96" stroke-width="1.5"/>
<path d="M1521,933.5 h16 M1520,938 h10" stroke="#0f5a96" stroke-width="2" stroke-linecap="round"/>
<g fill="#0f5a96"><circle cx="1578" cy="932.5" r="1.1"/><circle cx="1582.5" cy="932.5" r="1.1"/><circle cx="1587" cy="932.5" r="1.1"/><circle cx="1591.5" cy="932.5" r="1.1"/><circle cx="1596" cy="932.5" r="1.1"/><circle cx="1579" cy="937.1" r="1.1"/><circle cx="1583.5" cy="937.1" r="1.1"/><circle cx="1588" cy="937.1" r="1.1"/><circle cx="1592.5" cy="937.1" r="1.1"/><circle cx="1597" cy="937.1" r="1.1"/></g>
<path d="M1547.3,916 Q1546,901 1559.8,900.6 Q1573.5,901 1572.3,916 Q1575.5,918 1573.5,922.5 Q1571,926.5 1567,927 Q1563.5,931.5 1559.8,931.5 Q1556,931.5 1552.6,927 Q1548.5,926.5 1546,922.5 Q1544,918 1547.3,916 Z" fill="#4db8ec" stroke="#0f5a96" stroke-width="2.4" stroke-linejoin="round"/>
<path d="M1552.6,927 Q1549.5,923 1549.5,918 M1567,927 Q1570.2,923 1570.2,918" fill="none" stroke="#0f5a96" stroke-width="1.5"/>
<path d="M1536.5,961 L1538.5,940 Q1539.5,935.5 1544,934.5 L1554,931.5 Q1559.8,936.5 1565.6,931.5 L1575.6,934.5 Q1580,935.5 1581,940 L1583,961 Q1583,962 1582,962 L1537.5,962 Q1536.5,962 1536.5,961 Z" fill="#fff" stroke="#0f5a96" stroke-width="2.4" stroke-linejoin="round"/>
<path d="M1545,961.5 L1545,950 Q1545,945.4 1549.5,945.4 L1570,945.4 Q1574.6,945.4 1574.6,950 L1574.6,961.5" fill="none" stroke="#0f5a96" stroke-width="2.4"/>
<text x="173.4" y="208.8" font-size="35" textLength="197" lengthAdjust="spacingAndGlyphs">Curved LED</text>
<text x="186.4" y="254.5" font-size="35" textLength="170.6" lengthAdjust="spacingAndGlyphs">video wall</text>
<text x="1396.8" y="265.4" font-size="35" textLength="175" lengthAdjust="spacingAndGlyphs">Intelligent</text>
<text x="1360.2" y="310" font-size="35" textLength="247" lengthAdjust="spacingAndGlyphs">studio lighting</text>
<text x="326.2" y="933.4" font-size="35" textLength="225.6" lengthAdjust="spacingAndGlyphs">Studio-grade</text>
<text x="375.8" y="979.7" font-size="35" textLength="126.2" lengthAdjust="spacingAndGlyphs">camera</text>
<text x="1448.6" y="1017" font-size="35" textLength="225.2" lengthAdjust="spacingAndGlyphs">Control room</text>
</g>
<rect x="0.5" y="0.5" width="1921" height="1130" fill="none" stroke="#5a5a5a" stroke-width="1.6"/>
</svg></body></html>
